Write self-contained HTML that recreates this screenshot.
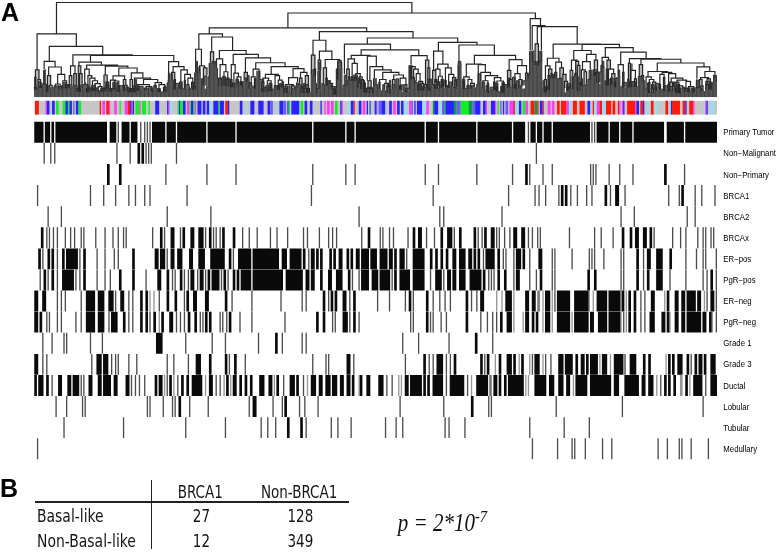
<!DOCTYPE html>
<html><head><meta charset="utf-8"><title>Figure</title>
<style>
html,body{margin:0;padding:0;background:#fff;}
body{width:778px;height:552px;position:relative;overflow:hidden;font-family:"Liberation Sans",sans-serif;color:#111;}
svg{position:absolute;left:0;top:0;}
.pl{position:absolute;font-weight:bold;font-size:25px;line-height:25px;color:#000;}
.lab{position:absolute;left:723.3px;font-size:7.8px;line-height:10px;white-space:nowrap;color:#000;transform:scale(1,1.08);transform-origin:0 0;}
.t{position:absolute;font-family:"DejaVu Sans Condensed","DejaVu Sans","Liberation Sans",sans-serif;font-size:13.2px;line-height:16px;white-space:nowrap;color:#1c1c1c;}
.p{position:absolute;font-family:"Liberation Serif",serif;font-style:italic;font-size:21px;line-height:24px;white-space:nowrap;color:#111;}
.p sup{font-size:12px;line-height:0;vertical-align:8px;}
.hl{position:absolute;background:#222;}
</style></head><body>
<svg width="778" height="552" viewBox="0 0 778 552">
<path fill="#b9b9b9" d="M35.41 69.83H39.01V87.46H35.41zM34.5 87.46H36.41V89.8H34.5zM37.98 79.48H40.55V88.06H37.98zM39.89 86.17H41.21V88.08H39.89zM47.37 75.62H50.59V88.49H47.37zM46.71 88.49H48.03V91.96H46.71zM49.31 85.27H52.14V89.36H49.31zM65.36 84.63H68V88.21H65.36zM59.24 86.56H61.24V89.76H59.24zM69.25 75.62H71.83V87.87H69.25zM73.76 73.69H76.33V84.89H73.76zM78.26 65.97H80.84V88.49H78.26zM76.94 88.49H79.58V91.65H76.94zM79.55 73.69H82.12V88.49H79.55zM78.89 88.49H80.21V91.7H78.89zM86.6 88.49H89.24V92.34H86.6zM91.76 85.27H93.08V91.05H91.76zM93.99 88.49H95.99V91.05H93.99zM101.07 88.75H103.07V91.65H101.07zM104 74.98H107.22V88.49H104zM103 88.49H105V91.65H103zM105.93 82.05H108.76V89.78H105.93zM109.44 88.49H111.44V91.52H109.44zM112.98 88.49H115.62V90.55H112.98zM118.14 85.92H119.46V91.65H118.14zM123.31 79.48H125.88V89.78H123.31zM124.56 85.27H127.2V91.3H124.56zM130 79.48H132.57V88.49H130zM129.34 88.49H130.66V92.21H129.34zM131.57 88.49H133.57V91.95H131.57zM133.84 88.49H135.16V92.24H133.84zM137.06 88.49H138.38V90.75H137.06zM150.88 89.78H152.88V91.72H150.88zM158.3 90.03H159.62V91.95H158.3zM163.43 87.46H166.07V91.95H163.43zM171.44 72.4H174.79V79.48H171.44zM174.13 79.48H175.45V89.27H174.13zM179.55 82.05H182.12V88.76H179.55zM186.92 84.63H188.92V89.46H186.92zM191.52 82.31H194.09V88.49H191.52zM192.77 86.56H195.41V89.46H192.77zM203.36 67.9H206.96V84.63H203.36zM210.44 51.81H213.66V62.75H210.44zM218.77 78.19H221.41V86.18H218.77zM226.81 79.48H228.81V86.3H226.81zM230.63 79.48H231.95V87.33H230.63zM232.86 83.34H234.86V86.63H232.86zM240.28 82.05H241.6V85.53H240.28zM244.16 72.4H247.37V80.77H244.16zM254.44 78.84H255.76V88.43H254.44zM261.82 82.05H263.82V91.7H261.82zM266 85.92H268.64V91.41H266zM270.52 83.98H271.84V90.69H270.52zM277.6 85.92H278.92V89.85H277.6zM281.46 84.63H282.78V87.15H281.46zM284.34 88.49H286.34V92.72H284.34zM291.52 85.92H294.99V92.35H291.52zM299.5 78.19H302.07V87.2H299.5zM301.07 87.2H303.07V92.73H301.07zM305.29 75.62H308.51V88.49H305.29zM303.97 88.49H306.61V92.73H303.97zM307.51 88.49H309.51V92.8H307.51zM311.34 55.03H314.94V74.33H311.34zM314.28 69.18H315.6V75.34H314.28zM318.16 60.18H320.73V70.47H318.16zM323.31 67.9H326.53V84.25H323.31zM325.87 78.19H327.19V85.85H325.87zM337.72 60.82H341.33V79.48H337.72zM330 83.34H332.57V84.49H330zM331.54 86.56H335.15V89.78H331.54zM334.49 89.78H335.81V94.39H334.49zM346.73 69.18H349.31V79.48H346.73zM351.14 76.91H353.14V81.09H351.14zM354.74 77.55H356.74V81.09H354.74zM359.34 76.91H362.18V82.05H359.34zM358.02 82.05H360.66V88.58H358.02zM360.86 79.48H363.5V88.74H360.86zM361.53 80.77H364.49V88.49H361.53zM363.83 83.34H365.15V92.29H363.83zM367.97 80.77H371.18V88.49H367.97zM366.65 88.49H369.29V92.99H366.65zM369.86 88.49H372.5V92.99H369.86zM387.24 86.56H389.88V93.11H387.24zM392.42 79.48H394.99V88.49H392.42zM399.48 85.92H400.8V89.19H399.48zM404.93 84.63H406.93V91.95H404.93zM417.8 84.63H419.8V90.6H417.8zM421.66 83.34H423.66V90.57H421.66zM425.5 60.18H428.84V84.63H425.5zM424.18 84.63H426.82V88.12H424.18zM427.84 67.9H429.84V90.42H427.84zM432.57 70.47H435.79V85.23H432.57zM434.79 79.48H436.79V88.46H434.79zM434.79 82.05H436.79V88.46H434.79zM437.05 84.63H439.69V89.01H437.05zM441.23 79.48H443.23V87.83H441.23zM448 85.92H449.32V87.83H448zM452.52 77.55H455.74V86.83H452.52zM454.74 80.77H456.74V88.43H454.74zM487.26 83.34H488.58V92.73H487.26zM493.69 82.05H495.01V89.73H493.69zM496.26 87.2H497.58V91.43H496.26zM502.7 84.63H504.02V92.88H502.7zM463.06 82.05H464.38V88.9H463.06zM466.97 85.92H468.97V88.89H466.97zM507.48 70.47H510.82V87.88H507.48zM509.5 79.48H512.14V87.6H509.5zM514.28 84.63H515.6V88.46H514.28zM518.8 79.48H522.02V88.19H518.8zM525.5 73.05H528.07V80.49H525.5zM535.1 43.8H538.4V65H535.1zM544.44 79.48H546.44V92.08H544.44zM548.66 69.18H551.88V75.62H548.66zM548 75.62H549.32V89.51H548zM550.88 75.62H552.88V78.45H550.88zM554.74 72.4H556.74V78.27H554.74zM559.86 67.9H563.46V79.48H559.86zM562.82 74.33H566.04V88.09H562.82zM564.49 81.41H567.58V87.96H564.49zM566.92 86.56H568.24V90.79H566.92zM570.12 70.47H572.76V88.99H570.12zM575.69 61.46H578.65V76.26H575.69zM577.33 65.32H579.97V90.72H577.33zM580.82 82.05H582.14V86.09H580.82zM584.02 71.76H586.66V85.85H584.02zM594.35 60.18H597.57V73.05H594.35zM593.69 73.05H595.01V75.47H593.69zM596.25 72.4H598.89V82.45H596.25zM601.07 65.32H603.07V67.59H601.07zM606.96 60.18H610.44V69.18H606.96zM606.3 69.18H607.62V85.33H606.3zM611.72 73.69H614.94V84.23H611.72zM614.28 82.05H615.6V86.93H614.28zM622.65 72.4H623.97V87.84H622.65zM628.4 63.4H630.4V87.21H628.4zM630.37 82.05H631.69V86.93H630.37zM634.41 78.84H636.41V86.93H634.41zM639.27 64.68H642.61V76.91H639.27zM641.61 75.62H643.61V77.24H641.61zM648.65 82.7H649.97V92.99H648.65zM652.52 82.05H655.74V88.49H652.52zM651.52 88.49H653.52V92.82H651.52zM655.08 87.2H656.4V90.49H655.08zM659.2 84.63H660.52V89.19H659.2zM663.45 77.55H664.77V90.72H663.45zM667.95 84.63H669.27V91.69H667.95zM669.86 82.05H672.5V90.49H669.86zM672.44 85.92H675.08V91.19H672.44zM678.25 84.63H679.57V93.07H678.25zM676.32 88.49H677.64V92.99H676.32zM677.91 91.06H679.91V93.07H677.91zM684.66 88.49H687.3V91.69H684.66zM687.9 89.78H689.22V91.96H687.9zM692.71 89.78H694.71V92.8H692.71zM699.5 79.48H702.07V87.2H699.5zM698.18 87.2H700.82V88.7H698.18zM701.07 85.92H703.07V91H701.07zM707.22 78.84H710.44V84.63H707.22zM705.9 84.63H708.54V89.24H705.9zM709.78 83.34H711.1V89.5H709.78zM713.66 75.62H716.23V82.05H713.66z"/>
<path fill="#686868" d="M34.66 76.9H35.99V89.9H34.66zM38.63 81.76H41.28V88.26H38.63zM42.6 83.56H43.93V89.56H42.6zM43.93 84.06H46.57V89.56H43.93zM46.57 86.57H49.22V89.56H46.57zM54.52 85.28H55.84V87.31H54.52zM57.16 85.28H58.49V87.29H57.16zM61.13 85.81H62.46V89.81H61.13zM63.78 82.07H66.43V88.3H63.78zM67.75 84.81H71.72V88.31H67.75zM73.05 85.25H77.02V91.75H73.05zM78.34 85.3H80.99V91.8H78.34zM82.31 84.45H84.96V89.95H82.31zM84.96 84.25H87.61V91.75H84.96zM87.61 85.25H88.93V91.75H87.61zM90.25 87.65H91.58V91.15H90.25zM94.23 84.9H95.55V91.15H94.23zM95.55 87.86H98.2V92.45H95.55zM100.84 87.86H102.17V90.56H100.84zM103.49 87.75H106.14V91.75H103.49zM106.14 84.75H108.79V90.25H106.14zM110.11 88.25H111.43V91.75H110.11zM112.76 82.32H115.4V90.65H112.76zM116.73 82.32H118.05V91.75H116.73zM119.38 85.65H123.35V91.15H119.38zM125.99 86.95H128.64V92.45H125.99zM129.96 88.81H131.29V92.31H129.96zM132.61 85.84H135.26V92.34H132.61zM135.26 79.49H136.58V92.34H135.26zM137.91 85.93H139.23V90.64H137.91zM139.23 86.35H143.2V90.35H139.23zM144.52 87.86H147.17V90.35H144.52zM148.5 87.86H152.47V93.35H148.5zM153.79 85.16H156.44V91.66H153.79zM157.76 88.49H160.41V91.99H157.76zM164.38 85.93H165.7V91.78H164.38zM167.03 82.85H168.35V90.35H167.03zM168.35 73.28H169.67V80.78H168.35zM171 73.7H172.32V80.23H171zM174.97 83.35H178.94V89.37H174.97zM180.26 83.35H181.59V88.81H180.26zM184.23 80.06H185.56V89.56H184.23zM192.18 83.61H193.5V89.75H192.18zM193.5 83.61H194.82V89.75H193.5zM196.15 61.3H197.47V73.34H196.15zM198.79 67.27H200.12V73.23H198.79zM201.44 78.73H202.76V89.23H201.44zM204.09 76.05H206.74V85.55H204.09zM208.06 76.93H209.38V87.43H208.06zM212.03 61.3H213.35V63.96H212.03zM214.68 61.3H216V68.58H214.68zM217.32 78.78H221.3V86.28H217.32zM222.62 76.24H225.27V85.74H222.62zM225.27 77.9H229.24V86.4H225.27zM231.88 83.18H234.53V87.18H231.88zM235.86 79.13H238.5V86.63H235.86zM239.83 81.43H242.47V87.93H239.83zM245.12 77.82H246.44V81.82H245.12zM247.77 75.53H249.09V88.53H247.77zM249.09 82.53H251.74V88.53H249.09zM259.68 79.49H263.65V91.8H259.68zM263.65 87.3H267.62V91.8H263.65zM268.95 83H271.59V90.5H268.95zM274.24 85.5H276.89V90H274.24zM278.21 86.45H279.54V89.95H278.21zM279.54 83.45H280.86V89.95H279.54zM282.18 81.6H283.51V91.1H282.18zM284.83 85.93H287.48V93.01H284.83zM288.8 85.93H290.12V94.12H288.8zM291.45 88.41H292.77V93.91H291.45zM294.1 87.22H296.74V89.54H294.1zM298.07 84.7H302.04V92.2H298.07zM303.36 83.33H304.69V92.83H303.36zM306.01 84.5H308.66V93H306.01zM311.3 69.94H313.95V75.44H311.3zM315.27 83.4H316.6V92.9H315.27zM316.6 88.4H319.25V92.9H316.6zM319.25 62.18H320.57V71.68H319.25zM321.89 83.46H323.22V92.96H321.89zM331.16 88.71H333.81V94.71H331.16zM333.81 87.86H336.45V94.71H333.81zM337.78 62.12H341.75V68.87H337.78zM343.07 85.1H347.04V89.1H343.07zM348.37 76.46H349.69V80.46H348.37zM351.01 77.19H352.34V81.19H351.01zM353.66 74.99H357.63V80.98H353.66zM357.63 78.21H360.28V88.68H357.63zM361.6 82.89H365.57V92.39H361.6zM366.9 87.59H369.54V93.09H366.9zM369.54 87.09H372.19V93.09H369.54zM373.51 84.35H377.49V88.85H373.51zM378.81 82.03H380.13V88.53H378.81zM382.78 84.64H384.1V91.04H382.78zM386.75 84.64H389.4V93.21H386.75zM389.4 80.21H390.72V93.21H389.4zM392.05 84.59H394.69V90.09H392.05zM396.02 78.85H398.66V89.35H396.02zM399.99 85.29H401.31V89.29H399.99zM401.31 84.79H403.96V91.29H401.31zM405.28 88.29H409.25V91.79H405.28zM410.58 77.06H414.55V80.56H410.58zM414.55 82.71H418.52V90.72H414.55zM419.84 82.71H421.17V90.7H419.84zM421.17 86.67H425.14V90.67H421.17zM426.46 87.02H427.78V90.52H426.46zM427.78 79.02H431.75V90.52H427.78zM433.08 84.53H435.73V88.53H433.08zM437.05 81.61H439.7V89.11H437.05zM441.02 80.73H442.34V86.73H441.02zM442.34 80.13H446.31V86.63H442.34zM448.96 81.93H451.61V87.93H448.96zM454.26 79.59H458.23V87.09H454.26zM458.23 61.32H460.87V65.32H458.23zM462.2 79.22H464.85V88.72H462.2zM467.49 84.99H468.82V88.99H467.49zM471.46 85.22H474.11V88.72H471.46zM476.76 84.36H478.08V87.86H476.76zM478.08 73.7H480.73V81.6H478.08zM482.05 82.07H484.7V90.63H482.05zM486.02 85.53H488.67V91.53H486.02zM490 87.19H493.97V91.69H490zM493.97 83.03H497.94V91.53H493.97zM500.58 86.33H501.91V92.83H500.58zM501.91 82.32H504.56V92.83H501.91zM504.56 84.58H507.2V88.08H504.56zM508.53 77.93H509.85V85.43H508.53zM512.5 77.06H515.14V88.56H512.5zM516.47 80.78H519.12V89.23H516.47zM521.76 80.78H525.73V85.58H521.76zM527.06 74.35H529.7V80.43H527.06zM532.35 61.3H536.32V65.76H532.35zM537.65 61.3H541.62V66.09H537.65zM542.94 80.68H544.26V92.18H542.94zM545.59 86.27H548.24V92.27H545.59zM550.88 73.05H552.21V78.55H550.88zM553.53 74.05H556.18V78.55H553.53zM566.77 83.39H570.74V90.89H566.77zM572.06 76.23H573.38V89.23H572.06zM574.71 73.05H577.36V77.05H574.71zM577.36 83.32H580V90.82H577.36zM581.33 78.69H582.65V86.19H581.33zM587.94 79.35H590.59V85.35H587.94zM593.24 69.78H597.21V82.78H593.24zM598.53 72.05H601.18V82.55H598.53zM602.5 61.3H603.83V67.69H602.5zM606.48 73.93H607.8V85.43H606.48zM607.8 79.43H610.45V85.43H607.8zM610.45 77.88H613.09V85.38H610.45zM614.42 78.53H617.06V87.03H614.42zM618.39 70.02H619.71V77.52H618.39zM622.36 82.37H626.33V86.87H622.36zM627.65 78.81H628.98V87.31H627.65zM628.98 81.81H630.3V87.31H628.98zM631.62 81.52H635.6V87.02H631.62zM638.24 76.38H640.89V86.88H638.24zM642.21 80.79H644.86V89.29H642.21zM647.51 82.79H648.83V89.29H647.51zM651.48 84.42H654.13V92.92H651.48zM655.45 83.35H659.42V90.59H655.45zM664.72 85.74H668.69V91.74H664.72zM670.01 86.59H672.66V90.59H670.01zM673.98 83.35H676.63V92.39H673.98zM677.95 87.81H680.6V93.31H677.95zM681.92 87.22H685.89V91.73H681.92zM687.22 87.86H689.87V91.79H687.22zM691.19 87.86H692.51V92.39H691.19zM693.84 87.86H696.48V92.09H693.84zM697.81 80.78H699.13V90.57H697.81zM705.75 81.1H709.72V89.6H705.75zM711.04 82.12H712.37V89.62H711.04zM713.69 76.92H716.34V83.28H713.69z"/>
<path fill="#727272" d="M34 97.1L34 89.4L35.32 89.4L35.32 89.34L36.65 89.34L36.65 87.76L37.97 87.76L37.97 87.76L39.29 87.76L39.29 87.68L40.62 87.68L40.62 87.49L41.94 87.49L41.94 89.06L43.27 89.06L43.27 69.94L44.59 69.94L44.59 69.34L45.91 69.34L45.91 89.06L47.24 89.06L47.24 91.56L48.56 91.56L48.56 86.76L49.88 86.76L49.88 86.96L51.21 86.96L51.21 89.06L52.53 89.06L52.53 86.76L53.85 86.76L53.85 86.81L55.18 86.81L55.18 86.7L56.5 86.7L56.5 86.76L57.83 86.76L57.83 86.79L59.15 86.79L59.15 89.36L60.47 89.36L60.47 89.31L61.8 89.31L61.8 87.76L63.12 87.76L63.12 87.8L64.44 87.8L64.44 87.8L65.77 87.8L65.77 87.76L67.09 87.76L67.09 87.81L68.41 87.81L68.41 87.57L69.74 87.57L69.74 87.33L71.06 87.33L71.06 84.57L72.39 84.57L72.39 86.87L73.71 86.87L73.71 85.09L75.03 85.09L75.03 85.52L76.36 85.52L76.36 91.25L77.68 91.25L77.68 91.3L79 91.3L79 90.15L80.33 90.15L80.33 90.03L81.65 90.03L81.65 89.45L82.97 89.45L82.97 89.19L84.3 89.19L84.3 82.05L85.62 82.05L85.62 91.94L86.95 91.94L86.95 91.25L88.27 91.25L88.27 91.12L89.59 91.12L89.59 88.15L90.92 88.15L90.92 90.65L92.24 90.65L92.24 90.44L93.56 90.44L93.56 90.55L94.89 90.55L94.89 90.65L96.21 90.65L96.21 90.37L97.53 90.37L97.53 91.95L98.86 91.95L98.86 90.15L100.18 90.15L100.18 90.05L101.51 90.05L101.51 90.06L102.83 90.06L102.83 91.25L104.15 91.25L104.15 90.99L105.48 90.99L105.48 89.75L106.8 89.75L106.8 88.15L108.12 88.15L108.12 87.88L109.45 87.88L109.45 91.25L110.77 91.25L110.77 91.12L112.09 91.12L112.09 90.15L113.42 90.15L113.42 89.86L114.74 89.86L114.74 90.15L116.07 90.15L116.07 89.95L117.39 89.95L117.39 91.25L118.71 91.25L118.71 89.45L120.04 89.45L120.04 88.95L121.36 88.95L121.36 89.09L122.68 89.09L122.68 90.65L124.01 90.65L124.01 90.9L125.33 90.9L125.33 88.15L126.66 88.15L126.66 87.95L127.98 87.95L127.98 91.95L129.3 91.95L129.3 91.81L130.63 91.81L130.63 91.55L131.95 91.55L131.95 91.76L133.27 91.76L133.27 91.55L134.6 91.55L134.6 91.84L135.92 91.84L135.92 90.35L137.24 90.35L137.24 90.14L138.57 90.14L138.57 89.85L139.89 89.85L139.89 89.69L141.22 89.69L141.22 88.05L142.54 88.05L142.54 88.04L143.86 88.04L143.86 89.85L145.19 89.85L145.19 89.7L146.51 89.7L146.51 89.55L147.83 89.55L147.83 92.85L149.16 92.85L149.16 92.77L150.48 92.77L150.48 91.05L151.8 91.05L151.8 91.32L153.13 91.32L153.13 91.16L154.45 91.16L154.45 88.05L155.78 88.05L155.78 88.02L157.1 88.02L157.1 88.27L158.42 88.27L158.42 91.55L159.75 91.55L159.75 91.49L161.07 91.49L161.07 91.48L162.39 91.48L162.39 91.55L163.72 91.55L163.72 91.28L165.04 91.28L165.04 90.35L166.36 90.35L166.36 89.85L167.69 89.85L167.69 79.91L169.01 79.91L169.01 80.28L170.34 80.28L170.34 79.7L171.66 79.7L171.66 79.73L172.98 79.73L172.98 80.15L174.31 80.15L174.31 88.87L175.63 88.87L175.63 88.67L176.95 88.67L176.95 87.26L178.28 87.26L178.28 88.46L179.6 88.46L179.6 88.25L180.92 88.25L180.92 88.31L182.25 88.31L182.25 87.96L183.57 87.96L183.57 87.94L184.9 87.94L184.9 89.06L186.22 89.06L186.22 89.06L187.54 89.06L187.54 89.05L188.87 89.05L188.87 86.76L190.19 86.76L190.19 87.96L191.51 87.96L191.51 89.06L192.84 89.06L192.84 89.25L194.16 89.25L194.16 72.6L195.48 72.6L195.48 72.82L196.81 72.82L196.81 72.84L198.13 72.84L198.13 72.42L199.46 72.42L199.46 72.73L200.78 72.73L200.78 88.73L202.1 88.73L202.1 84.93L203.43 84.93L203.43 85.05L204.75 85.05L204.75 88.73L206.07 88.73L206.07 75.5L207.4 75.5L207.4 86.93L208.72 86.93L208.72 62.79L210.04 62.79L210.04 62.9L211.37 62.9L211.37 63.46L212.69 63.46L212.69 63.27L214.02 63.27L214.02 62.81L215.34 62.81L215.34 68.08L216.66 68.08L216.66 68.24L217.99 68.24L217.99 84.76L219.31 84.76L219.31 85.64L220.63 85.64L220.63 85.78L221.96 85.78L221.96 85.24L223.28 85.24L223.28 85.24L224.6 85.24L224.6 85.06L225.93 85.06L225.93 85.64L227.25 85.64L227.25 85.61L228.58 85.61L228.58 85.9L229.9 85.9L229.9 86.93L231.22 86.93L231.22 86.68L232.55 86.68L232.55 86.23L233.87 86.23L233.87 86.23L235.19 86.23L235.19 86.13L236.52 86.13L236.52 83.93L237.84 83.93L237.84 83.92L239.16 83.92L239.16 84.93L240.49 84.93L240.49 85.13L241.81 85.13L241.81 87.43L243.14 87.43L243.14 81.06L244.46 81.06L244.46 81.16L245.78 81.16L245.78 81.32L247.11 81.32L247.11 81.34L248.43 81.34L248.43 88.03L249.75 88.03L249.75 87.97L251.08 87.97L251.08 85.73L252.4 85.73L252.4 85.73L253.72 85.73L253.72 85.44L255.05 85.44L255.05 88.03L256.37 88.03L256.37 70.76L257.7 70.76L257.7 70.79L259.02 70.79L259.02 70.48L260.34 70.48L260.34 88.12L261.67 88.12L261.67 87.94L262.99 87.94L262.99 91.3L264.31 91.3L264.31 91.08L265.64 91.08L265.64 91.01L266.96 91.01L266.96 91.3L268.28 91.3L268.28 90L269.61 90L269.61 90.29L270.93 90.29L270.93 88.8L272.26 88.8L272.26 88.52L273.58 88.52L273.58 89.1L274.9 89.1L274.9 89.1L276.23 89.1L276.23 89.5L277.55 89.5L277.55 89.36L278.87 89.36L278.87 89.45L280.2 89.45L280.2 86.5L281.52 86.5L281.52 86.75L282.84 86.75L282.84 90.6L284.17 90.6L284.17 90.7L285.49 90.7L285.49 92.32L286.82 92.32L286.82 92.51L288.14 92.51L288.14 92.55L289.46 92.55L289.46 93.62L290.79 93.62L290.79 93.41L292.11 93.41L292.11 88.82L293.43 88.82L293.43 89.04L294.76 89.04L294.76 88.98L296.08 88.98L296.08 82.29L297.41 82.29L297.41 82.73L298.73 82.73L298.73 82.11L300.05 82.11L300.05 91.63L301.38 91.63L301.38 91.7L302.7 91.7L302.7 92.33L304.02 92.33L304.02 90.53L305.35 90.53L305.35 92.33L306.67 92.33L306.67 92.36L307.99 92.36L307.99 92.5L309.32 92.5L309.32 92.4L310.64 92.4L310.64 74.73L311.97 74.73L311.97 74.49L313.29 74.49L313.29 74.94L314.61 74.94L314.61 74.49L315.94 74.49L315.94 92.4L317.26 92.4L317.26 70.84L318.58 70.84L318.58 70.68L319.91 70.68L319.91 71.18L321.23 71.18L321.23 92.46L322.55 92.46L322.55 83.95L323.88 83.95L323.88 83.93L325.2 83.93L325.2 85.45L326.53 85.45L326.53 79.57L327.85 79.57L327.85 79.98L329.17 79.98L329.17 79.97L330.5 79.97L330.5 84.21L331.82 84.21L331.82 84.19L333.14 84.19L333.14 94.21L334.47 94.21L334.47 93.99L335.79 93.99L335.79 68.61L337.11 68.61L337.11 68.29L338.44 68.29L338.44 68.63L339.76 68.63L339.76 67.94L341.09 67.94L341.09 68.37L342.41 68.37L342.41 88.6L343.73 88.6L343.73 75.07L345.06 75.07L345.06 74.38L346.38 74.38L346.38 79.5L347.7 79.5L347.7 79.96L349.03 79.96L349.03 79.81L350.35 79.81L350.35 80.69L351.67 80.69L351.67 80.27L353 80.27L353 80.48L354.32 80.48L354.32 80.69L355.65 80.69L355.65 80.37L356.97 80.37L356.97 80.21L358.29 80.21L358.29 88.26L359.62 88.26L359.62 88.18L360.94 88.18L360.94 88.21L362.26 88.21L362.26 88.34L363.59 88.34L363.59 91.78L364.91 91.78L364.91 91.89L366.23 91.89L366.23 91.85L367.56 91.85L367.56 91.6L368.88 91.6L368.88 92.59L370.21 92.59L370.21 92.66L371.53 92.66L371.53 88.79L372.85 88.79L372.85 78.26L374.18 78.26L374.18 78.33L375.5 78.33L375.5 78.35L376.82 78.35L376.82 88.35L378.15 88.35L378.15 87.79L379.47 87.79L379.47 88.03L380.79 88.03L380.79 90.39L382.12 90.39L382.12 90.54L383.44 90.54L383.44 90.39L384.77 90.39L384.77 90.33L386.09 90.33L386.09 92.59L387.41 92.59L387.41 92.63L388.74 92.63L388.74 92.71L390.06 92.71L390.06 90.39L391.38 90.39L391.38 89.59L392.71 89.59L392.71 88.79L394.03 88.79L394.03 88.65L395.35 88.65L395.35 88.79L396.68 88.79L396.68 88.79L398 88.79L398 88.85L399.33 88.85L399.33 88.79L400.65 88.79L400.65 88.65L401.97 88.65L401.97 91.89L403.3 91.89L403.3 90.79L404.62 90.79L404.62 91.29L405.94 91.29L405.94 91.55L407.27 91.55L407.27 91.15L408.59 91.15L408.59 65.2L409.91 65.2L409.91 65.1L411.24 65.1L411.24 65.05L412.56 65.05L412.56 79.73L413.89 79.73L413.89 80.06L415.21 80.06L415.21 80.15L416.53 80.15L416.53 90.2L417.86 90.2L417.86 90.22L419.18 90.22L419.18 90.2L420.5 90.2L420.5 90.17L421.83 90.17L421.83 87.82L423.15 87.82L423.15 87.72L424.47 87.72L424.47 87.82L425.8 87.82L425.8 85.22L427.12 85.22L427.12 90.02L428.45 90.02L428.45 87.52L429.77 87.52L429.77 87.52L431.09 87.52L431.09 87.36L432.42 87.36L432.42 84.93L433.74 84.93L433.74 85.02L435.06 85.02L435.06 88.03L436.39 88.03L436.39 88.06L437.71 88.06L437.71 88.73L439.03 88.73L439.03 88.61L440.36 88.61L440.36 86.23L441.68 86.23L441.68 86.13L443.01 86.13L443.01 87.43L444.33 87.43L444.33 87.72L445.65 87.72L445.65 85.73L446.98 85.73L446.98 84.93L448.3 84.93L448.3 87.43L449.62 87.43L449.62 87.23L450.95 87.23L450.95 87.43L452.27 87.43L452.27 86.53L453.59 86.53L453.59 86.59L454.92 86.59L454.92 86.64L456.24 86.64L456.24 88.03L457.57 88.03L457.57 64.82L458.89 64.82L458.89 64.39L460.21 64.39L460.21 64.12L461.54 64.12L461.54 88.22L462.86 88.22L462.86 88.5L464.18 88.5L464.18 88.22L465.51 88.22L465.51 88.06L466.83 88.06L466.83 88.49L468.16 88.49L468.16 87.52L469.48 87.52L469.48 87.43L470.8 87.43L470.8 88.22L472.13 88.22L472.13 86.22L473.45 86.22L473.45 86.2L474.77 86.2L474.77 87.52L476.1 87.52L476.1 87.36L477.42 87.36L477.42 80.83L478.74 80.83L478.74 80.83L480.07 80.83L480.07 81.1L481.39 81.1L481.39 87.53L482.72 87.53L482.72 87.47L484.04 87.47L484.04 90.13L485.36 90.13L485.36 90.21L486.69 90.21L486.69 92.33L488.01 92.33L488.01 91.03L489.33 91.03L489.33 91.19L490.66 91.19L490.66 89.33L491.98 89.33L491.98 89.2L493.3 89.2L493.3 89.33L494.63 89.33L494.63 89.06L495.95 89.06L495.95 89.53L497.28 89.53L497.28 91.03L498.6 91.03L498.6 91.17L499.92 91.17L499.92 91.22L501.25 91.22L501.25 92.33L502.57 92.33L502.57 92.48L503.89 92.48L503.89 87.53L505.22 87.53L505.22 87.73L506.54 87.73L506.54 87.58L507.86 87.58L507.86 84.93L509.19 84.93L509.19 84.65L510.51 84.65L510.51 86.93L511.84 86.93L511.84 87.2L513.16 87.2L513.16 88.03L514.48 88.03L514.48 88.06L515.81 88.06L515.81 88.73L517.13 88.73L517.13 88.03L518.45 88.03L518.45 87.89L519.78 87.89L519.78 84.93L521.1 84.93L521.1 85.08L522.42 85.08L522.42 88.73L523.75 88.73L523.75 88.48L525.07 88.48L525.07 80.19L526.4 80.19L526.4 79.93L527.72 79.93L527.72 80.09L529.04 80.09L529.04 50.91L530.37 50.91L530.37 50.55L531.69 50.55L531.69 50.94L533.01 50.94L533.01 50.37L534.34 50.37L534.34 65.36L535.66 65.36L535.66 65.26L536.98 65.26L536.98 65.59L538.31 65.59L538.31 51.06L539.63 51.06L539.63 50.66L540.96 50.66L540.96 50.93L542.28 50.93L542.28 88.66L543.6 88.66L543.6 91.68L544.93 91.68L544.93 91.77L546.25 91.77L546.25 89.4L547.57 89.4L547.57 89.11L548.9 89.11L548.9 77.93L550.22 77.93L550.22 78.05L551.54 78.05L551.54 77.75L552.87 77.75L552.87 78.05L554.19 78.05L554.19 77.87L555.52 77.87L555.52 77.85L556.84 77.85L556.84 77.92L558.16 77.92L558.16 78.19L559.49 78.19L559.49 77.6L560.81 77.6L560.81 77.71L562.13 77.71L562.13 87.79L563.46 87.79L563.46 87.66L564.78 87.66L564.78 92.59L566.1 92.59L566.1 90.39L567.43 90.39L567.43 90.32L568.75 90.32L568.75 84.93L570.08 84.93L570.08 84.98L571.4 84.98L571.4 88.73L572.72 88.73L572.72 88.59L574.05 88.59L574.05 76.31L575.37 76.31L575.37 76.75L576.69 76.75L576.69 76.55L578.02 76.55L578.02 76.53L579.34 76.53L579.34 90.32L580.66 90.32L580.66 85.45L581.99 85.45L581.99 85.69L583.31 85.69L583.31 84.85L584.64 84.85L584.64 84.57L585.96 84.57L585.96 85.45L587.28 85.45L587.28 84.85L588.61 84.85L588.61 69.95L589.93 69.95L589.93 69.22L591.25 69.22L591.25 69.78L592.58 69.78L592.58 74.88L593.9 74.88L593.9 75.07L595.22 75.07L595.22 81.78L596.55 81.78L596.55 82.28L597.87 82.28L597.87 82.05L599.2 82.05L599.2 83.93L600.52 83.93L600.52 66.85L601.84 66.85L601.84 67.19L603.17 67.19L603.17 67.09L604.49 67.09L604.49 80.35L605.81 80.35L605.81 80.65L607.14 80.65L607.14 84.93L608.46 84.93L608.46 84.84L609.78 84.84L609.78 84.88L611.11 84.88L611.11 83.93L612.43 83.93L612.43 83.8L613.76 83.8L613.76 86.53L615.08 86.53L615.08 84.94L616.4 84.94L616.4 76.91L617.73 76.91L617.73 77.02L619.05 77.02L619.05 76.31L620.37 76.31L620.37 86.14L621.7 86.14L621.7 86.37L623.02 86.37L623.02 87.44L624.34 87.44L624.34 87.47L625.67 87.47L625.67 82.64L626.99 82.64L626.99 86.74L628.32 86.74L628.32 86.81L629.64 86.81L629.64 86.53L630.96 86.53L630.96 86.52L632.29 86.52L632.29 85.73L633.61 85.73L633.61 85.53L634.93 85.53L634.93 85.68L636.26 85.68L636.26 86.53L637.58 86.53L637.58 86.38L638.91 86.38L638.91 76.92L640.23 76.92L640.23 76.35L641.55 76.35L641.55 76.84L642.88 76.84L642.88 76.64L644.2 76.64L644.2 88.79L645.52 88.79L645.52 88.59L646.85 88.59L646.85 88.79L648.17 88.79L648.17 88.61L649.49 88.61L649.49 92.59L650.82 92.59L650.82 92.42L652.14 92.42L652.14 91.89L653.47 91.89L653.47 91.85L654.79 91.85L654.79 90.09L656.11 90.09L656.11 89.94L657.44 89.94L657.44 89.89L658.76 89.89L658.76 88.79L660.08 88.79L660.08 88.68L661.41 88.68L661.41 88.71L662.73 88.71L662.73 90.09L664.05 90.09L664.05 90.32L665.38 90.32L665.38 90.24L666.7 90.24L666.7 91.29L668.03 91.29L668.03 91.24L669.35 91.24L669.35 90.09L670.67 90.09L670.67 90.02L672 90.02L672 89.99L673.32 89.99L673.32 91.89L674.64 91.89L674.64 90.79L675.97 90.79L675.97 90.56L677.29 90.56L677.29 92.59L678.61 92.59L678.61 92.67L679.94 92.67L679.94 92.81L681.26 92.81L681.26 88.79L682.59 88.79L682.59 88.65L683.91 88.65L683.91 91.29L685.23 91.29L685.23 91.23L686.56 91.23L686.56 91.29L687.88 91.29L687.88 91.56L689.2 91.56L689.2 89.59L690.53 89.59L690.53 91.29L691.85 91.29L691.85 91.89L693.17 91.89L693.17 91.59L694.5 91.59L694.5 92.4L695.82 92.4L695.82 79.46L697.15 79.46L697.15 79.47L698.47 79.47L698.47 90.07L699.79 90.07L699.79 88.3L701.12 88.3L701.12 88.09L702.44 88.09L702.44 90.6L703.76 90.6L703.76 91.3L705.09 91.3L705.09 86.5L706.41 86.5L706.41 88.8L707.73 88.8L707.73 88.84L709.06 88.84L709.06 89.1L710.38 89.1L710.38 89.1L711.71 89.1L711.71 89.12L713.03 89.12L713.03 82.78L714.35 82.78L714.35 82.71L715.68 82.71L715.68 82.16L717 82.16L717 97.1z"/><path stroke="#3e3e3e" stroke-width="0.92" fill="none" d="M34.66 89.4V97.1M35.99 89.34V97.1M37.31 87.76V97.1M38.63 87.76V97.1M39.96 87.68V97.1M41.28 87.49V97.1M42.6 89.06V97.1M43.93 69.94V97.1M45.25 69.34V97.1M46.57 89.06V97.1M47.9 91.56V97.1M49.22 86.76V97.1M50.55 86.96V97.1M51.87 89.06V97.1M53.19 86.76V97.1M54.52 86.81V97.1M55.84 86.7V97.1M57.16 86.76V97.1M58.49 86.79V97.1M59.81 89.36V97.1M61.13 89.31V97.1M62.46 87.76V97.1M63.78 87.8V97.1M65.11 87.8V97.1M66.43 87.76V97.1M67.75 87.81V97.1M69.08 87.57V97.1M70.4 87.33V97.1M71.72 84.57V97.1M73.05 86.87V97.1M74.37 85.09V97.1M75.69 85.52V97.1M77.02 91.25V97.1M78.34 91.3V97.1M79.67 90.15V97.1M80.99 90.03V97.1M82.31 89.45V97.1M83.64 89.19V97.1M84.96 82.05V97.1M86.28 91.94V97.1M87.61 91.25V97.1M88.93 91.12V97.1M90.25 88.15V97.1M91.58 90.65V97.1M92.9 90.44V97.1M94.23 90.55V97.1M95.55 90.65V97.1M96.87 90.37V97.1M98.2 91.95V97.1M99.52 90.15V97.1M100.84 90.05V97.1M102.17 90.06V97.1M103.49 91.25V97.1M104.81 90.99V97.1M106.14 89.75V97.1M107.46 88.15V97.1M108.79 87.88V97.1M110.11 91.25V97.1M111.43 91.12V97.1M112.76 90.15V97.1M114.08 89.86V97.1M115.4 90.15V97.1M116.73 89.95V97.1M118.05 91.25V97.1M119.38 89.45V97.1M120.7 88.95V97.1M122.02 89.09V97.1M123.35 90.65V97.1M124.67 90.9V97.1M125.99 88.15V97.1M127.32 87.95V97.1M128.64 91.95V97.1M129.96 91.81V97.1M131.29 91.55V97.1M132.61 91.76V97.1M133.94 91.55V97.1M135.26 91.84V97.1M136.58 90.35V97.1M137.91 90.14V97.1M139.23 89.85V97.1M140.55 89.69V97.1M141.88 88.05V97.1M143.2 88.04V97.1M144.52 89.85V97.1M145.85 89.7V97.1M147.17 89.55V97.1M148.5 92.85V97.1M149.82 92.77V97.1M151.14 91.05V97.1M152.47 91.32V97.1M153.79 91.16V97.1M155.11 88.05V97.1M156.44 88.02V97.1M157.76 88.27V97.1M159.08 91.55V97.1M160.41 91.49V97.1M161.73 91.48V97.1M163.06 91.55V97.1M164.38 91.28V97.1M165.7 90.35V97.1M167.03 89.85V97.1M168.35 79.91V97.1M169.67 80.28V97.1M171 79.7V97.1M172.32 79.73V97.1M173.64 80.15V97.1M174.97 88.87V97.1M176.29 88.67V97.1M177.62 87.26V97.1M178.94 88.46V97.1M180.26 88.25V97.1M181.59 88.31V97.1M182.91 87.96V97.1M184.23 87.94V97.1M185.56 89.06V97.1M186.88 89.06V97.1M188.2 89.05V97.1M189.53 86.76V97.1M190.85 87.96V97.1M192.18 89.06V97.1M193.5 89.25V97.1M194.82 72.6V97.1M196.15 72.82V97.1M197.47 72.84V97.1M198.79 72.42V97.1M200.12 72.73V97.1M201.44 88.73V97.1M202.76 84.93V97.1M204.09 85.05V97.1M205.41 88.73V97.1M206.74 75.5V97.1M208.06 86.93V97.1M209.38 62.79V97.1M210.71 62.9V97.1M212.03 63.46V97.1M213.35 63.27V97.1M214.68 62.81V97.1M216 68.08V97.1M217.32 68.24V97.1M218.65 84.76V97.1M219.97 85.64V97.1M221.3 85.78V97.1M222.62 85.24V97.1M223.94 85.24V97.1M225.27 85.06V97.1M226.59 85.64V97.1M227.91 85.61V97.1M229.24 85.9V97.1M230.56 86.93V97.1M231.88 86.68V97.1M233.21 86.23V97.1M234.53 86.23V97.1M235.86 86.13V97.1M237.18 83.93V97.1M238.5 83.92V97.1M239.83 84.93V97.1M241.15 85.13V97.1M242.47 87.43V97.1M243.8 81.06V97.1M245.12 81.16V97.1M246.44 81.32V97.1M247.77 81.34V97.1M249.09 88.03V97.1M250.42 87.97V97.1M251.74 85.73V97.1M253.06 85.73V97.1M254.39 85.44V97.1M255.71 88.03V97.1M257.03 70.76V97.1M258.36 70.79V97.1M259.68 70.48V97.1M261 88.12V97.1M262.33 87.94V97.1M263.65 91.3V97.1M264.98 91.08V97.1M266.3 91.01V97.1M267.62 91.3V97.1M268.95 90V97.1M270.27 90.29V97.1M271.59 88.8V97.1M272.92 88.52V97.1M274.24 89.1V97.1M275.56 89.1V97.1M276.89 89.5V97.1M278.21 89.36V97.1M279.54 89.45V97.1M280.86 86.5V97.1M282.18 86.75V97.1M283.51 90.6V97.1M284.83 90.7V97.1M286.15 92.32V97.1M287.48 92.51V97.1M288.8 92.55V97.1M290.12 93.62V97.1M291.45 93.41V97.1M292.77 88.82V97.1M294.1 89.04V97.1M295.42 88.98V97.1M296.74 82.29V97.1M298.07 82.73V97.1M299.39 82.11V97.1M300.71 91.63V97.1M302.04 91.7V97.1M303.36 92.33V97.1M304.69 90.53V97.1M306.01 92.33V97.1M307.33 92.36V97.1M308.66 92.5V97.1M309.98 92.4V97.1M311.3 74.73V97.1M312.63 74.49V97.1M313.95 74.94V97.1M315.27 74.49V97.1M316.6 92.4V97.1M317.92 70.84V97.1M319.25 70.68V97.1M320.57 71.18V97.1M321.89 92.46V97.1M323.22 83.95V97.1M324.54 83.93V97.1M325.86 85.45V97.1M327.19 79.57V97.1M328.51 79.98V97.1M329.83 79.97V97.1M331.16 84.21V97.1M332.48 84.19V97.1M333.81 94.21V97.1M335.13 93.99V97.1M336.45 68.61V97.1M337.78 68.29V97.1M339.1 68.63V97.1M340.42 67.94V97.1M341.75 68.37V97.1M343.07 88.6V97.1M344.39 75.07V97.1M345.72 74.38V97.1M347.04 79.5V97.1M348.37 79.96V97.1M349.69 79.81V97.1M351.01 80.69V97.1M352.34 80.27V97.1M353.66 80.48V97.1M354.98 80.69V97.1M356.31 80.37V97.1M357.63 80.21V97.1M358.95 88.26V97.1M360.28 88.18V97.1M361.6 88.21V97.1M362.93 88.34V97.1M364.25 91.78V97.1M365.57 91.89V97.1M366.9 91.85V97.1M368.22 91.6V97.1M369.54 92.59V97.1M370.87 92.66V97.1M372.19 88.79V97.1M373.51 78.26V97.1M374.84 78.33V97.1M376.16 78.35V97.1M377.49 88.35V97.1M378.81 87.79V97.1M380.13 88.03V97.1M381.46 90.39V97.1M382.78 90.54V97.1M384.1 90.39V97.1M385.43 90.33V97.1M386.75 92.59V97.1M388.07 92.63V97.1M389.4 92.71V97.1M390.72 90.39V97.1M392.05 89.59V97.1M393.37 88.79V97.1M394.69 88.65V97.1M396.02 88.79V97.1M397.34 88.79V97.1M398.66 88.85V97.1M399.99 88.79V97.1M401.31 88.65V97.1M402.63 91.89V97.1M403.96 90.79V97.1M405.28 91.29V97.1M406.61 91.55V97.1M407.93 91.15V97.1M409.25 65.2V97.1M410.58 65.1V97.1M411.9 65.05V97.1M413.22 79.73V97.1M414.55 80.06V97.1M415.87 80.15V97.1M417.19 90.2V97.1M418.52 90.22V97.1M419.84 90.2V97.1M421.17 90.17V97.1M422.49 87.82V97.1M423.81 87.72V97.1M425.14 87.82V97.1M426.46 85.22V97.1M427.78 90.02V97.1M429.11 87.52V97.1M430.43 87.52V97.1M431.75 87.36V97.1M433.08 84.93V97.1M434.4 85.02V97.1M435.73 88.03V97.1M437.05 88.06V97.1M438.37 88.73V97.1M439.7 88.61V97.1M441.02 86.23V97.1M442.34 86.13V97.1M443.67 87.43V97.1M444.99 87.72V97.1M446.31 85.73V97.1M447.64 84.93V97.1M448.96 87.43V97.1M450.29 87.23V97.1M451.61 87.43V97.1M452.93 86.53V97.1M454.26 86.59V97.1M455.58 86.64V97.1M456.9 88.03V97.1M458.23 64.82V97.1M459.55 64.39V97.1M460.87 64.12V97.1M462.2 88.22V97.1M463.52 88.5V97.1M464.85 88.22V97.1M466.17 88.06V97.1M467.49 88.49V97.1M468.82 87.52V97.1M470.14 87.43V97.1M471.46 88.22V97.1M472.79 86.22V97.1M474.11 86.2V97.1M475.44 87.52V97.1M476.76 87.36V97.1M478.08 80.83V97.1M479.41 80.83V97.1M480.73 81.1V97.1M482.05 87.53V97.1M483.38 87.47V97.1M484.7 90.13V97.1M486.02 90.21V97.1M487.35 92.33V97.1M488.67 91.03V97.1M490 91.19V97.1M491.32 89.33V97.1M492.64 89.2V97.1M493.97 89.33V97.1M495.29 89.06V97.1M496.61 89.53V97.1M497.94 91.03V97.1M499.26 91.17V97.1M500.58 91.22V97.1M501.91 92.33V97.1M503.23 92.48V97.1M504.56 87.53V97.1M505.88 87.73V97.1M507.2 87.58V97.1M508.53 84.93V97.1M509.85 84.65V97.1M511.17 86.93V97.1M512.5 87.2V97.1M513.82 88.03V97.1M515.14 88.06V97.1M516.47 88.73V97.1M517.79 88.03V97.1M519.12 87.89V97.1M520.44 84.93V97.1M521.76 85.08V97.1M523.09 88.73V97.1M524.41 88.48V97.1M525.73 80.19V97.1M527.06 79.93V97.1M528.38 80.09V97.1M529.7 50.91V97.1M531.03 50.55V97.1M532.35 50.94V97.1M533.68 50.37V97.1M535 65.36V97.1M536.32 65.26V97.1M537.65 65.59V97.1M538.97 51.06V97.1M540.29 50.66V97.1M541.62 50.93V97.1M542.94 88.66V97.1M544.26 91.68V97.1M545.59 91.77V97.1M546.91 89.4V97.1M548.24 89.11V97.1M549.56 77.93V97.1M550.88 78.05V97.1M552.21 77.75V97.1M553.53 78.05V97.1M554.85 77.87V97.1M556.18 77.85V97.1M557.5 77.92V97.1M558.82 78.19V97.1M560.15 77.6V97.1M561.47 77.71V97.1M562.8 87.79V97.1M564.12 87.66V97.1M565.44 92.59V97.1M566.77 90.39V97.1M568.09 90.32V97.1M569.41 84.93V97.1M570.74 84.98V97.1M572.06 88.73V97.1M573.38 88.59V97.1M574.71 76.31V97.1M576.03 76.75V97.1M577.36 76.55V97.1M578.68 76.53V97.1M580 90.32V97.1M581.33 85.45V97.1M582.65 85.69V97.1M583.97 84.85V97.1M585.3 84.57V97.1M586.62 85.45V97.1M587.94 84.85V97.1M589.27 69.95V97.1M590.59 69.22V97.1M591.92 69.78V97.1M593.24 74.88V97.1M594.56 75.07V97.1M595.89 81.78V97.1M597.21 82.28V97.1M598.53 82.05V97.1M599.86 83.93V97.1M601.18 66.85V97.1M602.5 67.19V97.1M603.83 67.09V97.1M605.15 80.35V97.1M606.48 80.65V97.1M607.8 84.93V97.1M609.12 84.84V97.1M610.45 84.88V97.1M611.77 83.93V97.1M613.09 83.8V97.1M614.42 86.53V97.1M615.74 84.94V97.1M617.06 76.91V97.1M618.39 77.02V97.1M619.71 76.31V97.1M621.04 86.14V97.1M622.36 86.37V97.1M623.68 87.44V97.1M625.01 87.47V97.1M626.33 82.64V97.1M627.65 86.74V97.1M628.98 86.81V97.1M630.3 86.53V97.1M631.62 86.52V97.1M632.95 85.73V97.1M634.27 85.53V97.1M635.6 85.68V97.1M636.92 86.53V97.1M638.24 86.38V97.1M639.57 76.92V97.1M640.89 76.35V97.1M642.21 76.84V97.1M643.54 76.64V97.1M644.86 88.79V97.1M646.19 88.59V97.1M647.51 88.79V97.1M648.83 88.61V97.1M650.16 92.59V97.1M651.48 92.42V97.1M652.8 91.89V97.1M654.13 91.85V97.1M655.45 90.09V97.1M656.77 89.94V97.1M658.1 89.89V97.1M659.42 88.79V97.1M660.75 88.68V97.1M662.07 88.71V97.1M663.39 90.09V97.1M664.72 90.32V97.1M666.04 90.24V97.1M667.36 91.29V97.1M668.69 91.24V97.1M670.01 90.09V97.1M671.33 90.02V97.1M672.66 89.99V97.1M673.98 91.89V97.1M675.31 90.79V97.1M676.63 90.56V97.1M677.95 92.59V97.1M679.28 92.67V97.1M680.6 92.81V97.1M681.92 88.79V97.1M683.25 88.65V97.1M684.57 91.29V97.1M685.89 91.23V97.1M687.22 91.29V97.1M688.54 91.56V97.1M689.87 89.59V97.1M691.19 91.29V97.1M692.51 91.89V97.1M693.84 91.59V97.1M695.16 92.4V97.1M696.48 79.46V97.1M697.81 79.47V97.1M699.13 90.07V97.1M700.45 88.3V97.1M701.78 88.09V97.1M703.1 90.6V97.1M704.43 91.3V97.1M705.75 86.5V97.1M707.07 88.8V97.1M708.4 88.84V97.1M709.72 89.1V97.1M711.04 89.1V97.1M712.37 89.12V97.1M713.69 82.78V97.1M715.01 82.71V97.1M716.34 82.16V97.1"/>
<path stroke="#242424" stroke-width="1.2" fill="none" stroke-linejoin="miter" stroke-miterlimit="2" d="M56.5 33.8V2.5H411.9V13M287.9 27.8V13H535.4V18.7M209.3 33.8V27.8H366.7V31.6M319.4 40.2V31.6H413V38M367.3 44.1V38H457.7V42.4M37.08 69.83V33.79H76.33V46.4M35.41 87.46V69.83H39.01V79.48M37.98 88.06V79.48H40.55V86.17M49.31 61.46V46.4H102.72V54.77M44.16 69.18V61.46H55.1V67M48.66 75.62V67H61.27V74.33M47.37 88.49V75.62H50.59V85.27M49.31 87.06V85.27H52.14V89.36M57.67 83.98V74.33H64.75V80.77M62.82 88.06V80.77H66.68V84.63M55.74 87V83.98H60.24V86.56M72.9 66V54.8H132.3V55.5M90.5 61.7V55.5H173.8V61.7M70.54 75.62V65.97H75.05V73.69M69.25 87.87V75.62H71.83V84.87M73.76 84.89V73.69H76.33V84.89M78.91 65.97V62.11H101.43V65.07M78.26 88.49V65.97H80.84V73.69M79.55 88.49V73.69H82.12V88.49M86.63 69.18V65.07H117.52V66.22M84.7 82.05V69.18H89.2V75.62M87.92 88.49V75.62H91.78V78.19M89.85 88.45V78.19H94.99V80.77M92.42 85.27V80.77H97.57V83.34M94.99 88.49V83.6H100.14V86.56M98.21 92.25V86.56H102.07V88.75M105.29 74.98V66.22H127.81V67.9M104 88.49V74.98H107.22V88.45M105.93 89.78V82.05H108.76V88.18M118.8 75.9V68H137.1V72.8M113.01 80.12V75.88H124.59V79.48M110.44 88.49V80.12H115.59V81.02M114.3 88.49V81.02H118.8V85.92M123.31 89.78V79.48H125.88V85.27M131.29 79.48V72.79H142.87V78.19M130 88.49V79.48H132.57V88.49M134.5 88.49V78.19H150.59V79.48M143.51 84.63V79.48H157.67V82.7M137.72 88.49V84.63H149.31V86.56M146.09 90V86.56H151.88V89.78M155.1 88.35V82.7H161.53V84.63M158.96 90.03V84.63H164.75V87.46M168.61 79.48V61.72H178.65V66.61M173.11 72.4V66.61H184.05V69.83M171.44 79.48V72.4H174.79V79.48M180.84 82.05V69.83H187.27V74.33M179.55 88.76V82.05H182.12V88.49M184.7 88.24V74.33H190.49V77.94M187.92 84.63V78.19H192.81V82.31M191.52 88.49V82.31H194.09V86.56M198.85 49.24V33.79H222.41V37.01M195.64 72.4V49.24H201.43V65.97M199.5 71.76V65.97H204.65V67.9M203.36 84.63V67.9H206.96V74.98M211.7 51.8V37H232.6V50.5M210.44 62.75V51.81H213.66V62.75M219.4 58.9V50.5H246.1V54.4M216.49 67.9V58.89H222.66V64.68M220.09 78.19V64.68H225.88V71.76M223.95 85.54V71.76H227.81V79.48M233.22 64.68V54.38H258.31V57.86M231.29 79.48V64.68H235.15V73.05M233.86 83.34V73.05H238.37V76.91M237.08 84.23V76.91H240.94V82.05M245.44 72.4V57.86H270.54V62.75M244.16 80.77V72.4H247.37V80.77M255.74 69.18V62.75H285.08V66.61M253.17 76.91V69.18H258.96V70.47M251.24 85.92V76.91H255.1V78.84M271.18 74.33V66.61H298.21V68.54M265.39 78.19V74.33H278.26V75.62M262.82 82.05V78.19H268.61V80.77M267.32 85.92V80.77H271.18V83.98M275.05 88.49V75.62H279.55V80.12M278.26 85.92V80.12H282.12V84.63M293.06 77.55V68.54H304V72.4M288.56 84.63V77.55H297.57V82.05M285.34 88.49V84.63H293.06V85.92M291.52 92.35V85.92H294.99V89.28M300.53 78.19V72.4H306.96V75.62M299.5 82.41V78.19H302.07V87.2M305.29 88.49V75.62H308.51V88.49M319.4 60.2V51.2H331.9V59.5M313.01 55.03V40.23H325.88V51.17M311.34 74.33V55.03H314.94V69.18M318.16 70.47V60.18H320.73V70.47M325.2 67.9V59.5H339.7V60.8M323.31 84.25V67.9H326.53V78.19M337.72 79.48V60.82H341.33V67.9M330 80.27V83.34H332.57V84.49M331.54 84.51V86.56H335.15V89.78M344.41 74.33V44.09H390.49V49.88M361.15 55.67V49.88H418.8V55.67M351.24 58.89V55.41H369.9V56.06M367.32 80.77V56.06H376.33V66.61M348.02 69.18V58.89H354.45V63.39M346.73 79.48V69.18H349.31V79.48M352.14 76.91V63.39H357.28V73.69M355.74 77.55V73.69H360.24V76.26M359.34 82.05V76.91H362.18V79.48M361.53 88.49V80.77H364.49V83.34M369.9 80.77V66.61H382.77V69.83M367.97 88.49V80.77H371.18V88.49M374.4 78.19V69.83H391.13V72.4M382.77 79.48V72.4H398.85V74.98M379.55 88.33V79.48H385.98V83.34M384.7 89.78V83.34H388.56V86.56M393.71 79.48V74.98H403.36V77.55M392.42 88.49V79.48H394.99V88.49M400.14 85.92V78.19H405.93V84.63M411.08 64.68V55.67H427.17V60.18M411.34 79.48V66.61H415.2V69.18M413.66 79.48V69.18H418.16V73.05M416.23 80.45V73.69H420.09V81.41M418.8 84.63V81.41H422.66V83.34M425.5 84.63V60.18H428.84V67.9M438.37 51.17V42.41H476.98V44.73M433.6 70.47V51.17H442.87V64.04M432.57 85.23V70.47H435.79V79.48M437.72 69.18V64.04H448.02V67.25M435.79 82.05V69.18H440.04V76.26M438.37 84.63V76.26H442.23V79.48M445.44 88.02V67.9H451.24V74.33M448.66 85.92V74.33H453.81V77.55M452.52 86.83V77.55H455.74V80.77M458.96 64.04V44.99H494.35V55.28M474.4 64.04V55.28H515.59V59.53M466.29 76.91V64.04H481.48V64.68M478.26 80.77V64.68H485.34V72.4M480.84 80.77V72.4H490.49V75.62M485.34 80.77V75.62H497.57V77.55M482.77 87.77V80.77H487.92V83.34M494.35 82.05V77.55H500.79V80.77M496.92 87.2V81.02H503.36V84.63M463.72 82.05V76.91H469.25V78.84M467.97 85.92V79.48H471.83V82.7M470.54 87.73V83.34H474.4V86.5M509.15 70.47V59.53H522.02V65.58M507.48 87.88V70.47H510.82V79.48M517.52 73.69V65.58H526.53V73.05M514.94 84.63V73.69H520.09V79.48M518.8 88.19V79.48H522.02V85.38M525.5 80.49V73.05H528.07V79.48M530.2 50.2V18.7H540.5V25.7M532.2 50.2V25.7H545V26.6M537.3 43.8V26.6H577.2V44.1M535.1 65V43.8H538.4V65M541.4 50.5V26.6H541.4V50.5M553.17 58.24V44.09H600.79V44.47M582.12 50.52V44.47H619.45V47.31M547.37 65.97V58.24H558.96V62.11M545.44 79.48V65.97H549.95V69.18M548.66 75.62V69.18H551.88V75.62M555.74 72.4V62.11H561.53V67.9M559.86 79.48V67.9H563.46V74.33M562.82 88.09V74.33H566.04V81.41M564.49 87.96V81.41H567.58V86.56M573.76 60.18V50.52H591.13V54.38M571.44 70.47V60.18H576.98V61.46M575.69 76.26V61.46H578.65V65.32M586.63 61.46V54.38H595.89V60.18M582.51 69.83V61.72H590.23V69.18M581.48 82.05V69.83H585.34V71.76M594.35 73.05V60.18H597.57V72.4M605.3 57.3V47.6H633.2V52.2M602.07 65.32V57.34H608.51V60.18M606.96 69.18V60.18H610.44V69.18M608.51 85.14V69.18H613.66V73.69M611.72 84.23V73.69H614.94V82.05M620.7 64.7V52.2H646.1V58.6M618.16 76.26V64.68H623.31V72.4M629.4 63.4V58.6H660.9V59.3M640.94 64.68V59.27H680.84V63.01M631.03 82.05V70.47H635.41V78.84M631.9 70.5V63.4H631.9V70.5M639.27 76.91V64.68H642.61V75.62M657.28 71.11V63.01H704V66.61M648.02 76.91V71.5H667.32V72.4M662.18 74.33V72.4H671.83V73.05M646.09 88.89V76.91H651.24V78.84M649.31 82.7V79.48H653.81V82.05M652.52 88.49V82.05H655.74V87.2M659.86 84.63V74.33H664.11V77.55M668.61 84.63V73.69H675.69V77.55M671.18 82.05V78.19H682.77V80.12M673.76 85.92V82.05H678.91V84.63M676.98 88.49V80.12H686.63V81.02M678.91 91.06V85.92H682.77V88.95M685.98 88.49V81.41H690.49V86.56M688.56 89.78V86.56H693.71V89.78M696.92 78.84V66.87H709.79V71.11M704.9 77.55V71.5H714.94V75.62M700.53 79.48V77.55H708.51V78.84M699.5 87.2V79.48H702.07V85.92M707.22 84.63V78.84H710.44V83.34M713.66 82.05V75.62H716.23V82.05M34.5 89.8V87.46H36.41V89.8M39.89 88.08V86.17H41.21V88.08M46.71 91.96V88.49H48.03V91.96M65.36 88.21V84.63H68V88.21M59.24 89.76V86.56H61.24V89.76M76.94 91.65V88.49H79.58V91.65M78.89 91.7V88.49H80.21V91.7M86.6 92.34V88.49H89.24V92.34M91.76 91.05V85.27H93.08V91.05M93.99 91.05V88.49H95.99V91.05M101.07 91.65V88.75H103.07V91.65M103 91.65V88.49H105V91.65M109.44 91.52V88.49H111.44V91.52M112.98 90.55V88.49H115.62V90.55M118.14 91.65V85.92H119.46V91.65M124.56 91.3V85.27H127.2V91.3M129.34 92.21V88.49H130.66V92.21M131.57 91.95V88.49H133.57V91.95M133.84 92.24V88.49H135.16V92.24M137.06 90.75V88.49H138.38V90.75M150.88 91.72V89.78H152.88V91.72M158.3 91.95V90.03H159.62V91.95M163.43 91.95V87.46H166.07V91.95M174.13 89.27V79.48H175.45V89.27M186.92 89.46V84.63H188.92V89.46M192.77 89.46V86.56H195.41V89.46M218.77 86.18V78.19H221.41V86.18M226.81 86.3V79.48H228.81V86.3M230.63 87.33V79.48H231.95V87.33M232.86 86.63V83.34H234.86V86.63M240.28 85.53V82.05H241.6V85.53M254.44 88.43V78.84H255.76V88.43M261.82 91.7V82.05H263.82V91.7M266 91.41V85.92H268.64V91.41M270.52 90.69V83.98H271.84V90.69M277.6 89.85V85.92H278.92V89.85M281.46 87.15V84.63H282.78V87.15M284.34 92.72V88.49H286.34V92.72M301.07 92.73V87.2H303.07V92.73M303.97 92.73V88.49H306.61V92.73M307.51 92.8V88.49H309.51V92.8M314.28 75.34V69.18H315.6V75.34M325.87 85.85V78.19H327.19V85.85M334.49 94.39V89.78H335.81V94.39M351.14 81.09V76.91H353.14V81.09M354.74 81.09V77.55H356.74V81.09M358.02 88.58V82.05H360.66V88.58M360.86 88.74V79.48H363.5V88.74M363.83 92.29V83.34H365.15V92.29M366.65 92.99V88.49H369.29V92.99M369.86 92.99V88.49H372.5V92.99M387.24 93.11V86.56H389.88V93.11M399.48 89.19V85.92H400.8V89.19M404.93 91.95V84.63H406.93V91.95M417.8 90.6V84.63H419.8V90.6M421.66 90.57V83.34H423.66V90.57M424.18 88.12V84.63H426.82V88.12M427.84 90.42V67.9H429.84V90.42M434.79 88.46V79.48H436.79V88.46M434.79 88.46V82.05H436.79V88.46M437.05 89.01V84.63H439.69V89.01M441.23 87.83V79.48H443.23V87.83M448 87.83V85.92H449.32V87.83M454.74 88.43V80.77H456.74V88.43M487.26 92.73V83.34H488.58V92.73M493.69 89.73V82.05H495.01V89.73M496.26 91.43V87.2H497.58V91.43M502.7 92.88V84.63H504.02V92.88M463.06 88.9V82.05H464.38V88.9M466.97 88.89V85.92H468.97V88.89M509.5 87.6V79.48H512.14V87.6M514.28 88.46V84.63H515.6V88.46M544.44 92.08V79.48H546.44V92.08M548 89.51V75.62H549.32V89.51M550.88 78.45V75.62H552.88V78.45M554.74 78.27V72.4H556.74V78.27M566.92 90.79V86.56H568.24V90.79M570.12 88.99V70.47H572.76V88.99M577.33 90.72V65.32H579.97V90.72M580.82 86.09V82.05H582.14V86.09M584.02 85.85V71.76H586.66V85.85M593.69 75.47V73.05H595.01V75.47M596.25 82.45V72.4H598.89V82.45M601.07 67.59V65.32H603.07V67.59M606.3 85.33V69.18H607.62V85.33M614.28 86.93V82.05H615.6V86.93M622.65 87.84V72.4H623.97V87.84M628.4 87.21V63.4H630.4V87.21M630.37 86.93V82.05H631.69V86.93M634.41 86.93V78.84H636.41V86.93M641.61 77.24V75.62H643.61V77.24M648.65 92.99V82.7H649.97V92.99M651.52 92.82V88.49H653.52V92.82M655.08 90.49V87.2H656.4V90.49M659.2 89.19V84.63H660.52V89.19M663.45 90.72V77.55H664.77V90.72M667.95 91.69V84.63H669.27V91.69M669.86 90.49V82.05H672.5V90.49M672.44 91.19V85.92H675.08V91.19M678.25 93.07V84.63H679.57V93.07M676.32 92.99V88.49H677.64V92.99M677.91 93.07V91.06H679.91V93.07M684.66 91.69V88.49H687.3V91.69M687.9 91.96V89.78H689.22V91.96M692.71 92.8V89.78H694.71V92.8M698.18 88.7V87.2H700.82V88.7M701.07 91V85.92H703.07V91M705.9 89.24V84.63H708.54V89.24M709.78 89.5V83.34H711.1V89.5"/>
<path stroke="#303030" stroke-width="1.0" fill="none" d="M34.66 89.9V76.9H35.99V89.84M38.63 88.26V81.76H41.28V87.99M42.6 89.56V83.56H43.93V70.44M43.93 70.44V84.06H46.57V89.56M46.57 89.56V86.57H49.22V87.26M54.52 87.31V85.28H55.84V87.2M57.16 87.26V85.28H58.49V87.29M61.13 89.81V85.81H62.46V88.26M63.78 88.3V82.07H66.43V88.26M67.75 88.31V84.81H71.72V85.07M73.05 87.37V85.25H77.02V91.75M78.34 91.8V85.3H80.99V90.53M82.31 89.95V84.45H84.96V82.55M84.96 82.55V84.25H87.61V91.75M87.61 91.75V85.25H88.93V91.62M90.25 88.65V87.65H91.58V91.15M94.23 91.05V84.9H95.55V91.15M95.55 91.15V87.86H98.2V92.45M100.84 90.55V87.86H102.17V90.56M103.49 91.75V87.75H106.14V90.25M106.14 90.25V84.75H108.79V88.38M110.11 91.75V88.25H111.43V91.62M112.76 90.65V82.32H115.4V90.65M116.73 90.45V82.32H118.05V91.75M119.38 89.95V85.65H123.35V91.15M125.99 88.65V86.95H128.64V92.45M129.96 92.31V88.81H131.29V92.05M132.61 92.26V85.84H135.26V92.34M135.26 92.34V79.49H136.58V90.85M137.91 90.64V85.93H139.23V90.35M139.23 90.35V86.35H143.2V88.54M144.52 90.35V87.86H147.17V90.05M148.5 93.35V87.86H152.47V91.82M153.79 91.66V85.16H156.44V88.52M157.76 88.77V88.49H160.41V91.99M164.38 91.78V85.93H165.7V90.85M167.03 90.35V82.85H168.35V80.41M168.35 80.41V73.28H169.67V80.78M171 80.2V73.7H172.32V80.23M174.97 89.37V83.35H178.94V88.96M180.26 88.75V83.35H181.59V88.81M184.23 88.44V80.06H185.56V89.56M192.18 89.56V83.61H193.5V89.75M193.5 89.75V83.61H194.82V73.1M196.15 73.32V61.3H197.47V73.34M198.79 72.92V67.27H200.12V73.23M201.44 89.23V78.73H202.76V85.43M204.09 85.55V76.05H206.74V76M208.06 87.43V76.93H209.38V63.29M212.03 63.96V61.3H213.35V63.77M214.68 63.31V61.3H216V68.58M217.32 68.74V78.78H221.3V86.28M222.62 85.74V76.24H225.27V85.56M225.27 85.56V77.9H229.24V86.4M231.88 87.18V83.18H234.53V86.73M235.86 86.63V79.13H238.5V84.42M239.83 85.43V81.43H242.47V87.93M245.12 81.66V77.82H246.44V81.82M247.77 81.84V75.53H249.09V88.53M249.09 88.53V82.53H251.74V86.23M259.68 70.98V79.49H263.65V91.8M263.65 91.8V87.3H267.62V91.8M268.95 90.5V83H271.59V89.3M274.24 89.6V85.5H276.89V90M278.21 89.86V86.45H279.54V89.95M279.54 89.95V83.45H280.86V87M282.18 87.25V81.6H283.51V91.1M284.83 91.2V85.93H287.48V93.01M288.8 93.05V85.93H290.12V94.12M291.45 93.91V88.41H292.77V89.32M294.1 89.54V87.22H296.74V82.79M298.07 83.23V84.7H302.04V92.2M303.36 92.83V83.33H304.69V91.03M306.01 92.83V84.5H308.66V93M311.3 75.23V69.94H313.95V75.44M315.27 74.99V83.4H316.6V92.9M316.6 92.9V88.4H319.25V71.18M319.25 71.18V62.18H320.57V71.68M321.89 92.96V83.46H323.22V84.45M331.16 84.71V88.71H333.81V94.71M333.81 94.71V87.86H336.45V69.11M337.78 68.79V62.12H341.75V68.87M343.07 89.1V85.1H347.04V80M348.37 80.46V76.46H349.69V80.31M351.01 81.19V77.19H352.34V80.77M353.66 80.98V74.99H357.63V80.71M357.63 80.71V78.21H360.28V88.68M361.6 88.71V82.89H365.57V92.39M366.9 92.35V87.59H369.54V93.09M369.54 93.09V87.09H372.19V89.29M373.51 78.76V84.35H377.49V88.85M378.81 88.29V82.03H380.13V88.53M382.78 91.04V84.64H384.1V90.89M386.75 93.09V84.64H389.4V93.21M389.4 93.21V80.21H390.72V90.89M392.05 90.09V84.59H394.69V89.15M396.02 89.29V78.85H398.66V89.35M399.99 89.29V85.29H401.31V89.15M401.31 89.15V84.79H403.96V91.29M405.28 91.79V88.29H409.25V65.7M410.58 65.6V77.06H414.55V80.56M414.55 80.56V82.71H418.52V90.72M419.84 90.7V82.71H421.17V90.67M421.17 90.67V86.67H425.14V88.32M426.46 85.72V87.02H427.78V90.52M427.78 90.52V79.02H431.75V87.86M433.08 85.43V84.53H435.73V88.53M437.05 88.56V81.61H439.7V89.11M441.02 86.73V80.73H442.34V86.63M442.34 86.63V80.13H446.31V86.23M448.96 87.93V81.93H451.61V87.93M454.26 87.09V79.59H458.23V65.32M458.23 65.32V61.32H460.87V64.62M462.2 88.72V79.22H464.85V88.72M467.49 88.99V84.99H468.82V88.02M471.46 88.72V85.22H474.11V86.7M476.76 87.86V84.36H478.08V81.33M478.08 81.33V73.7H480.73V81.6M482.05 88.03V82.07H484.7V90.63M486.02 90.71V85.53H488.67V91.53M490 91.69V87.19H493.97V89.83M493.97 89.83V83.03H497.94V91.53M500.58 91.72V86.33H501.91V92.83M501.91 92.83V82.32H504.56V88.03M504.56 88.03V84.58H507.2V88.08M508.53 85.43V77.93H509.85V85.15M512.5 87.7V77.06H515.14V88.56M516.47 89.23V80.78H519.12V88.39M521.76 85.58V80.78H525.73V80.69M527.06 80.43V74.35H529.7V51.41M532.35 51.44V61.3H536.32V65.76M537.65 66.09V61.3H541.62V51.43M542.94 89.16V80.68H544.26V92.18M545.59 92.27V86.27H548.24V89.61M550.88 78.55V73.05H552.21V78.25M553.53 78.55V74.05H556.18V78.35M566.77 90.89V83.39H570.74V85.48M572.06 89.23V76.23H573.38V89.09M574.71 76.81V73.05H577.36V77.05M577.36 77.05V83.32H580V90.82M581.33 85.95V78.69H582.65V86.19M587.94 85.35V79.35H590.59V69.72M593.24 75.38V69.78H597.21V82.78M598.53 82.55V72.05H601.18V67.35M602.5 67.69V61.3H603.83V67.59M606.48 81.15V73.93H607.8V85.43M607.8 85.43V79.43H610.45V85.38M610.45 85.38V77.88H613.09V84.3M614.42 87.03V78.53H617.06V77.41M618.39 77.52V70.02H619.71V76.81M622.36 86.87V82.37H626.33V83.14M627.65 87.24V78.81H628.98V87.31M628.98 87.31V81.81H630.3V87.03M631.62 87.02V81.52H635.6V86.18M638.24 86.88V76.38H640.89V76.85M642.21 77.34V80.79H644.86V89.29M647.51 89.29V82.79H648.83V89.11M651.48 92.92V84.42H654.13V92.35M655.45 90.59V83.35H659.42V89.29M664.72 90.82V85.74H668.69V91.74M670.01 90.59V86.59H672.66V90.49M673.98 92.39V83.35H676.63V91.06M677.95 93.09V87.81H680.6V93.31M681.92 89.29V87.22H685.89V91.73M687.22 91.79V87.86H689.87V90.09M691.19 91.79V87.86H692.51V92.39M693.84 92.09V87.86H696.48V79.96M697.81 79.97V80.78H699.13V90.57M705.75 87V81.1H709.72V89.6M711.04 89.6V82.12H712.37V89.62M713.69 83.28V76.92H716.34V82.66"/>
<rect x="34.9" y="100.8" width="682.1" height="13.8" fill="#c6c6c6"/>
<path fill="#ff1a0a" d="M34.9 100.8h3.97v13.8h-3.97zM99.67 100.8h1.32v13.8h-1.32zM106.28 100.8h2.64v13.8h-2.64zM127.43 100.8h2.64v13.8h-2.64zM225.25 100.8h2.64v13.8h-2.64zM353.48 100.8h1.32v13.8h-1.32zM530.61 100.8h3.97v13.8h-3.97zM537.22 100.8h1.32v13.8h-1.32zM542.51 100.8h1.32v13.8h-1.32zM557.05 100.8h2.64v13.8h-2.64zM561.02 100.8h5.29v13.8h-5.29zM572.91 100.8h3.97v13.8h-3.97zM579.52 100.8h5.29v13.8h-5.29zM592.74 100.8h1.32v13.8h-1.32zM599.35 100.8h2.64v13.8h-2.64zM605.96 100.8h5.29v13.8h-5.29zM612.57 100.8h2.64v13.8h-2.64zM617.86 100.8h1.32v13.8h-1.32zM627.11 100.8h7.93v13.8h-7.93zM640.33 100.8h2.64v13.8h-2.64zM650.91 100.8h2.64v13.8h-2.64zM665.45 100.8h2.64v13.8h-2.64zM672.06 100.8h7.93v13.8h-7.93zM682.63 100.8h2.64v13.8h-2.64zM689.24 100.8h3.97v13.8h-3.97z"/>
<path fill="#ff3cf5" d="M45.48 100.8h1.32v13.8h-1.32zM102.32 100.8h2.64v13.8h-2.64zM108.93 100.8h1.32v13.8h-1.32zM114.21 100.8h2.64v13.8h-2.64zM124.79 100.8h2.64v13.8h-2.64zM131.4 100.8h1.32v13.8h-1.32zM139.33 100.8h1.32v13.8h-1.32zM168.41 100.8h1.32v13.8h-1.32zM186.92 100.8h2.64v13.8h-2.64zM194.85 100.8h1.32v13.8h-1.32zM324.4 100.8h1.32v13.8h-1.32zM327.04 100.8h2.64v13.8h-2.64zM331.01 100.8h2.64v13.8h-2.64zM341.58 100.8h1.32v13.8h-1.32zM362.73 100.8h2.64v13.8h-2.64zM393.13 100.8h2.64v13.8h-2.64zM409 100.8h2.64v13.8h-2.64zM426.18 100.8h2.64v13.8h-2.64zM485.67 100.8h1.32v13.8h-1.32zM494.92 100.8h1.32v13.8h-1.32zM509.46 100.8h3.97v13.8h-3.97zM525.32 100.8h2.64v13.8h-2.64zM547.8 100.8h2.64v13.8h-2.64zM551.76 100.8h2.64v13.8h-2.64zM566.3 100.8h2.64v13.8h-2.64zM596.71 100.8h2.64v13.8h-2.64zM619.18 100.8h1.32v13.8h-1.32zM621.82 100.8h1.32v13.8h-1.32zM635.04 100.8h1.32v13.8h-1.32zM693.21 100.8h1.32v13.8h-1.32zM705.1 100.8h1.32v13.8h-1.32z"/>
<path fill="#2a22ff" d="M46.8 100.8h2.64v13.8h-2.64zM52.08 100.8h2.64v13.8h-2.64zM65.3 100.8h2.64v13.8h-2.64zM69.27 100.8h2.64v13.8h-2.64zM75.88 100.8h2.64v13.8h-2.64zM130.08 100.8h1.32v13.8h-1.32zM132.72 100.8h1.32v13.8h-1.32zM155.19 100.8h3.97v13.8h-3.97zM167.09 100.8h1.32v13.8h-1.32zM178.99 100.8h1.32v13.8h-1.32zM182.95 100.8h2.64v13.8h-2.64zM190.88 100.8h2.64v13.8h-2.64zM197.49 100.8h3.97v13.8h-3.97zM202.78 100.8h2.64v13.8h-2.64zM206.75 100.8h2.64v13.8h-2.64zM213.36 100.8h5.29v13.8h-5.29zM219.97 100.8h3.97v13.8h-3.97zM227.9 100.8h1.32v13.8h-1.32zM239.79 100.8h2.64v13.8h-2.64zM250.37 100.8h3.97v13.8h-3.97zM258.3 100.8h1.32v13.8h-1.32zM259.62 100.8h2.64v13.8h-2.64zM262.27 100.8h1.32v13.8h-1.32zM267.55 100.8h2.64v13.8h-2.64zM279.45 100.8h3.97v13.8h-3.97zM287.38 100.8h1.32v13.8h-1.32zM291.35 100.8h7.93v13.8h-7.93zM304.57 100.8h2.64v13.8h-2.64zM309.86 100.8h2.64v13.8h-2.64zM320.43 100.8h1.32v13.8h-1.32zM340.26 100.8h1.32v13.8h-1.32zM350.83 100.8h2.64v13.8h-2.64zM358.77 100.8h2.64v13.8h-2.64zM366.7 100.8h1.32v13.8h-1.32zM369.34 100.8h1.32v13.8h-1.32zM374.63 100.8h1.32v13.8h-1.32zM381.24 100.8h3.97v13.8h-3.97zM389.17 100.8h2.64v13.8h-2.64zM397.1 100.8h2.64v13.8h-2.64zM401.07 100.8h2.64v13.8h-2.64zM414.29 100.8h1.32v13.8h-1.32zM416.93 100.8h5.29v13.8h-5.29zM434.11 100.8h3.97v13.8h-3.97zM446.01 100.8h7.93v13.8h-7.93zM475.09 100.8h5.29v13.8h-5.29zM483.02 100.8h2.64v13.8h-2.64zM490.96 100.8h3.97v13.8h-3.97zM502.85 100.8h1.32v13.8h-1.32zM518.72 100.8h2.64v13.8h-2.64zM539.87 100.8h2.64v13.8h-2.64zM587.45 100.8h2.64v13.8h-2.64zM623.15 100.8h1.32v13.8h-1.32zM636.36 100.8h2.64v13.8h-2.64zM642.97 100.8h1.32v13.8h-1.32zM670.73 100.8h1.32v13.8h-1.32zM685.27 100.8h1.32v13.8h-1.32zM706.42 100.8h1.32v13.8h-1.32z"/>
<path fill="#10f020" d="M56.05 100.8h2.64v13.8h-2.64zM62.66 100.8h2.64v13.8h-2.64zM67.95 100.8h1.32v13.8h-1.32zM78.52 100.8h2.64v13.8h-2.64zM119.5 100.8h1.32v13.8h-1.32zM135.36 100.8h3.97v13.8h-3.97zM141.97 100.8h3.97v13.8h-3.97zM148.58 100.8h1.32v13.8h-1.32zM177.67 100.8h1.32v13.8h-1.32zM180.31 100.8h2.64v13.8h-2.64zM189.56 100.8h1.32v13.8h-1.32zM193.53 100.8h1.32v13.8h-1.32zM218.64 100.8h1.32v13.8h-1.32zM283.42 100.8h1.32v13.8h-1.32zM288.7 100.8h1.32v13.8h-1.32zM300.6 100.8h2.64v13.8h-2.64zM334.97 100.8h2.64v13.8h-2.64zM460.55 100.8h7.93v13.8h-7.93zM497.56 100.8h1.32v13.8h-1.32zM522.68 100.8h2.64v13.8h-2.64z"/>
<path fill="#6a5cff" d="M73.24 100.8h1.32v13.8h-1.32zM270.2 100.8h2.64v13.8h-2.64zM283.42 100.8h2.64v13.8h-2.64zM375.95 100.8h1.32v13.8h-1.32zM378.59 100.8h2.64v13.8h-2.64zM411.64 100.8h1.32v13.8h-1.32zM442.04 100.8h2.64v13.8h-2.64zM456.59 100.8h3.97v13.8h-3.97zM472.45 100.8h2.64v13.8h-2.64zM500.21 100.8h1.32v13.8h-1.32zM505.5 100.8h2.64v13.8h-2.64z"/>
<path fill="#9adcf0" d="M169.73 100.8h2.64v13.8h-2.64zM209.39 100.8h2.64v13.8h-2.64zM246.4 100.8h1.32v13.8h-1.32zM275.49 100.8h1.32v13.8h-1.32zM346.87 100.8h2.64v13.8h-2.64zM368.02 100.8h1.32v13.8h-1.32zM403.71 100.8h3.97v13.8h-3.97zM422.22 100.8h3.97v13.8h-3.97zM439.4 100.8h2.64v13.8h-2.64zM516.07 100.8h2.64v13.8h-2.64zM568.95 100.8h2.64v13.8h-2.64zM594.06 100.8h2.64v13.8h-2.64zM601.99 100.8h2.64v13.8h-2.64zM604.64 100.8h1.32v13.8h-1.32zM646.94 100.8h2.64v13.8h-2.64zM654.87 100.8h2.64v13.8h-2.64zM669.41 100.8h1.32v13.8h-1.32zM703.78 100.8h1.32v13.8h-1.32zM710.39 100.8h3.97v13.8h-3.97z"/>
<path fill="#0a9a48" d="M432.79 100.8h1.32v13.8h-1.32zM444.69 100.8h1.32v13.8h-1.32zM453.94 100.8h2.64v13.8h-2.64zM468.48 100.8h3.97v13.8h-3.97zM534.58 100.8h2.64v13.8h-2.64z"/>
<path fill="#c01040" d="M513.43 100.8h1.32v13.8h-1.32z"/>
<g fill="#969696"><path d="M149.36 290.6h1.32v20.9h-1.32zM153.33 290.6h1.32v20.9h-1.32zM496.03 290.6h1.32v20.9h-1.32zM501.33 290.6h1.32v20.9h-1.32zM513.23 290.6h1.32v20.9h-1.32zM537.05 290.6h1.32v20.9h-1.32zM542.34 290.6h1.32v20.9h-1.32zM551.61 290.6h1.32v20.9h-1.32zM588.65 290.6h1.32v20.9h-1.32zM592.62 290.6h1.32v20.9h-1.32zM620.41 290.6h1.32v20.9h-1.32zM625.7 290.6h1.32v20.9h-1.32zM664.07 290.6h1.32v20.9h-1.32zM703.77 290.6h1.32v20.9h-1.32z"/>
<path d="M158.63 311.7h1.32v20.9h-1.32zM513.23 311.7h1.32v20.9h-1.32zM522.5 311.7h1.32v20.9h-1.32zM542.34 311.7h1.32v20.9h-1.32zM551.61 311.7h1.32v20.9h-1.32zM571.45 311.7h1.32v20.9h-1.32zM620.41 311.7h1.32v20.9h-1.32zM625.7 311.7h1.32v20.9h-1.32zM669.37 311.7h1.32v20.9h-1.32zM711.71 311.7h1.32v20.9h-1.32z"/>
<path d="M494.71 353.9h1.32v20.9h-1.32zM518.53 353.9h1.32v20.9h-1.32zM529.11 353.9h1.32v20.9h-1.32zM542.34 353.9h1.32v20.9h-1.32zM599.24 353.9h1.32v20.9h-1.32zM609.82 353.9h1.32v20.9h-1.32zM623.06 353.9h1.32v20.9h-1.32zM665.4 353.9h1.32v20.9h-1.32z"/>
<path d="M163.92 375h1.32v20.9h-1.32zM173.18 375h1.32v20.9h-1.32zM204.94 375h1.32v20.9h-1.32zM223.46 375h1.32v20.9h-1.32zM230.08 375h1.32v20.9h-1.32zM273.74 375h1.32v20.9h-1.32zM306.82 375h1.32v20.9h-1.32zM358.42 375h1.32v20.9h-1.32zM398.12 375h1.32v20.9h-1.32zM400.77 375h1.32v20.9h-1.32zM470.89 375h1.32v20.9h-1.32zM490.74 375h1.32v20.9h-1.32zM525.14 375h1.32v20.9h-1.32zM527.79 375h1.32v20.9h-1.32zM572.78 375h1.32v20.9h-1.32zM656.13 375h1.32v20.9h-1.32zM679.95 375h2.65v20.9h-2.65zM689.21 375h1.32v20.9h-1.32z"/></g>
<g fill="#4c4c4c"><path d="M117.61 121.8h1.32v20.9h-1.32zM140.1 121.8h1.32v20.9h-1.32zM144.07 121.8h1.32v20.9h-1.32zM146.72 121.8h1.32v20.9h-1.32zM149.36 121.8h1.32v20.9h-1.32zM527.79 121.8h1.32v20.9h-1.32zM591.3 121.8h1.32v20.9h-1.32zM593.95 121.8h1.32v20.9h-1.32z"/>
<path d="M43.51 142.9h1.32v20.9h-1.32zM50.13 142.9h1.32v20.9h-1.32zM54.1 142.9h1.32v20.9h-1.32zM116.29 142.9h1.32v20.9h-1.32zM129.52 142.9h1.32v20.9h-1.32zM145.4 142.9h1.32v20.9h-1.32zM148.04 142.9h1.32v20.9h-1.32zM150.69 142.9h1.32v20.9h-1.32zM175.83 142.9h1.32v20.9h-1.32zM535.73 142.9h1.32v20.9h-1.32z"/>
<path d="M165.24 164h1.32v20.9h-1.32zM206.26 164h1.32v20.9h-1.32zM235.37 164h1.32v20.9h-1.32zM312.11 164h1.32v20.9h-1.32zM345.19 164h1.32v20.9h-1.32zM354.45 164h1.32v20.9h-1.32zM424.58 164h1.32v20.9h-1.32zM437.81 164h1.32v20.9h-1.32zM476.19 164h1.32v20.9h-1.32zM511.91 164h1.32v20.9h-1.32zM529.11 164h1.32v20.9h-1.32zM542.34 164h1.32v20.9h-1.32zM551.61 164h1.32v20.9h-1.32zM589.98 164h1.32v20.9h-1.32zM592.62 164h1.32v20.9h-1.32zM595.27 164h1.32v20.9h-1.32zM608.5 164h1.32v20.9h-1.32zM619.09 164h1.32v20.9h-1.32zM632.32 164h1.32v20.9h-1.32zM683.92 164h1.32v20.9h-1.32z"/>
<path d="M36.9 185.1h1.32v20.9h-1.32zM89.82 185.1h1.32v20.9h-1.32zM103.05 185.1h1.32v20.9h-1.32zM114.96 185.1h1.32v20.9h-1.32zM128.19 185.1h1.32v20.9h-1.32zM134.81 185.1h1.32v20.9h-1.32zM144.07 185.1h1.32v20.9h-1.32zM149.36 185.1h1.32v20.9h-1.32zM186.41 185.1h1.32v20.9h-1.32zM310.79 185.1h1.32v20.9h-1.32zM432.52 185.1h1.32v20.9h-1.32zM507.94 185.1h1.32v20.9h-1.32zM534.4 185.1h1.32v20.9h-1.32zM538.37 185.1h1.32v20.9h-1.32zM544.99 185.1h1.32v20.9h-1.32zM558.22 185.1h1.32v20.9h-1.32zM570.13 185.1h1.32v20.9h-1.32zM576.75 185.1h1.32v20.9h-1.32zM586.01 185.1h1.32v20.9h-1.32zM591.3 185.1h1.32v20.9h-1.32zM609.82 185.1h1.32v20.9h-1.32zM624.38 185.1h1.32v20.9h-1.32zM668.04 185.1h1.32v20.9h-1.32zM678.63 185.1h1.32v20.9h-1.32zM694.51 185.1h1.32v20.9h-1.32zM701.12 185.1h1.32v20.9h-1.32zM714.35 185.1h1.32v20.9h-1.32z"/>
<path d="M47.48 206.2h1.32v20.9h-1.32zM60.71 206.2h1.32v20.9h-1.32zM166.57 206.2h1.32v20.9h-1.32zM210.23 206.2h1.32v20.9h-1.32zM358.42 206.2h1.32v20.9h-1.32zM439.14 206.2h1.32v20.9h-1.32zM443.11 206.2h1.32v20.9h-1.32zM501.33 206.2h1.32v20.9h-1.32zM620.41 206.2h1.32v20.9h-1.32zM633.64 206.2h1.32v20.9h-1.32zM686.57 206.2h1.32v20.9h-1.32zM694.51 206.2h1.32v20.9h-1.32z"/>
<path d="M46.16 227.3h1.32v20.9h-1.32zM48.8 227.3h1.32v20.9h-1.32zM52.77 227.3h1.32v20.9h-1.32zM56.74 227.3h1.32v20.9h-1.32zM64.68 227.3h1.32v20.9h-1.32zM69.98 227.3h1.32v20.9h-1.32zM73.94 227.3h1.32v20.9h-1.32zM80.56 227.3h1.32v20.9h-1.32zM83.21 227.3h1.32v20.9h-1.32zM95.12 227.3h1.32v20.9h-1.32zM104.38 227.3h1.32v20.9h-1.32zM112.32 227.3h1.32v20.9h-1.32zM117.61 227.3h1.32v20.9h-1.32zM122.9 227.3h1.32v20.9h-1.32zM125.55 227.3h1.32v20.9h-1.32zM152.01 227.3h1.32v20.9h-1.32zM163.92 227.3h1.32v20.9h-1.32zM179.8 227.3h1.32v20.9h-1.32zM204.94 227.3h1.32v20.9h-1.32zM212.88 227.3h1.32v20.9h-1.32zM215.52 227.3h1.32v20.9h-1.32zM219.49 227.3h1.32v20.9h-1.32zM241.99 227.3h1.32v20.9h-1.32zM248.6 227.3h1.32v20.9h-1.32zM256.54 227.3h1.32v20.9h-1.32zM269.77 227.3h1.32v20.9h-1.32zM276.39 227.3h1.32v20.9h-1.32zM286.97 227.3h1.32v20.9h-1.32zM302.85 227.3h1.32v20.9h-1.32zM306.82 227.3h1.32v20.9h-1.32zM318.73 227.3h1.32v20.9h-1.32zM327.99 227.3h1.32v20.9h-1.32zM331.96 227.3h1.32v20.9h-1.32zM335.93 227.3h1.32v20.9h-1.32zM361.07 227.3h1.32v20.9h-1.32zM379.59 227.3h1.32v20.9h-1.32zM382.24 227.3h1.32v20.9h-1.32zM388.86 227.3h1.32v20.9h-1.32zM392.83 227.3h1.32v20.9h-1.32zM407.38 227.3h1.32v20.9h-1.32zM425.91 227.3h1.32v20.9h-1.32zM433.84 227.3h1.32v20.9h-1.32zM453.69 227.3h1.32v20.9h-1.32zM477.51 227.3h1.32v20.9h-1.32zM481.48 227.3h1.32v20.9h-1.32zM496.03 227.3h1.32v20.9h-1.32zM498.68 227.3h1.32v20.9h-1.32zM503.97 227.3h1.32v20.9h-1.32zM509.26 227.3h1.32v20.9h-1.32zM527.79 227.3h1.32v20.9h-1.32zM531.76 227.3h1.32v20.9h-1.32zM537.05 227.3h1.32v20.9h-1.32zM539.7 227.3h1.32v20.9h-1.32zM568.81 227.3h1.32v20.9h-1.32zM593.95 227.3h1.32v20.9h-1.32zM600.56 227.3h1.32v20.9h-1.32zM612.47 227.3h1.32v20.9h-1.32zM653.49 227.3h1.32v20.9h-1.32zM672.01 227.3h1.32v20.9h-1.32zM679.95 227.3h1.32v20.9h-1.32zM685.24 227.3h1.32v20.9h-1.32zM697.15 227.3h1.32v20.9h-1.32zM702.45 227.3h1.32v20.9h-1.32zM705.09 227.3h1.32v20.9h-1.32zM710.38 227.3h1.32v20.9h-1.32zM713.03 227.3h1.32v20.9h-1.32z"/>
<path d="M42.19 248.4h1.32v20.9h-1.32zM56.74 248.4h1.32v20.9h-1.32zM79.24 248.4h1.32v20.9h-1.32zM96.44 248.4h1.32v20.9h-1.32zM104.38 248.4h1.32v20.9h-1.32zM113.64 248.4h1.32v20.9h-1.32zM117.61 248.4h1.32v20.9h-1.32zM166.57 248.4h1.32v20.9h-1.32zM232.72 248.4h1.32v20.9h-1.32zM308.14 248.4h1.32v20.9h-1.32zM406.06 248.4h1.32v20.9h-1.32zM482.8 248.4h1.32v20.9h-1.32zM502.65 248.4h1.32v20.9h-1.32zM505.29 248.4h1.32v20.9h-1.32zM513.23 248.4h1.32v20.9h-1.32zM529.11 248.4h1.32v20.9h-1.32zM551.61 248.4h1.32v20.9h-1.32zM554.25 248.4h1.32v20.9h-1.32zM571.45 248.4h1.32v20.9h-1.32zM588.65 248.4h1.32v20.9h-1.32zM591.3 248.4h1.32v20.9h-1.32zM593.95 248.4h1.32v20.9h-1.32zM603.21 248.4h1.32v20.9h-1.32zM620.41 248.4h1.32v20.9h-1.32zM623.06 248.4h1.32v20.9h-1.32zM642.9 248.4h1.32v20.9h-1.32zM685.24 248.4h1.32v20.9h-1.32zM695.83 248.4h1.32v20.9h-1.32zM702.45 248.4h1.32v20.9h-1.32zM705.09 248.4h1.32v20.9h-1.32zM715.68 248.4h1.32v20.9h-1.32z"/>
<path d="M39.54 269.5h1.32v20.9h-1.32zM47.48 269.5h1.32v20.9h-1.32zM56.74 269.5h1.32v20.9h-1.32zM75.27 269.5h1.32v20.9h-1.32zM79.24 269.5h1.32v20.9h-1.32zM96.44 269.5h1.32v20.9h-1.32zM104.38 269.5h1.32v20.9h-1.32zM109.67 269.5h1.32v20.9h-1.32zM145.4 269.5h1.32v20.9h-1.32zM171.86 269.5h1.32v20.9h-1.32zM174.5 269.5h1.32v20.9h-1.32zM183.77 269.5h1.32v20.9h-1.32zM187.74 269.5h1.32v20.9h-1.32zM197 269.5h1.32v20.9h-1.32zM204.94 269.5h1.32v20.9h-1.32zM220.82 269.5h1.32v20.9h-1.32zM227.43 269.5h1.32v20.9h-1.32zM351.81 269.5h1.32v20.9h-1.32zM358.42 269.5h1.32v20.9h-1.32zM391.5 269.5h1.32v20.9h-1.32zM429.87 269.5h1.32v20.9h-1.32zM443.11 269.5h1.32v20.9h-1.32zM488.09 269.5h1.32v20.9h-1.32zM490.74 269.5h1.32v20.9h-1.32zM493.39 269.5h1.32v20.9h-1.32zM513.23 269.5h1.32v20.9h-1.32zM529.11 269.5h1.32v20.9h-1.32zM535.73 269.5h1.32v20.9h-1.32zM551.61 269.5h1.32v20.9h-1.32zM554.25 269.5h1.32v20.9h-1.32zM620.41 269.5h1.32v20.9h-1.32zM623.06 269.5h1.32v20.9h-1.32zM642.9 269.5h1.32v20.9h-1.32zM669.37 269.5h1.32v20.9h-1.32zM685.24 269.5h1.32v20.9h-1.32zM702.45 269.5h1.32v20.9h-1.32zM706.41 269.5h1.32v20.9h-1.32zM715.68 269.5h1.32v20.9h-1.32z"/>
<path d="M56.74 290.6h1.32v20.9h-1.32zM60.71 290.6h1.32v20.9h-1.32zM64.68 290.6h1.32v20.9h-1.32zM80.56 290.6h1.32v20.9h-1.32zM114.96 290.6h1.32v20.9h-1.32zM128.19 290.6h1.32v20.9h-1.32zM132.16 290.6h1.32v20.9h-1.32zM158.63 290.6h1.32v20.9h-1.32zM183.77 290.6h1.32v20.9h-1.32zM231.4 290.6h1.32v20.9h-1.32zM251.25 290.6h1.32v20.9h-1.32zM280.36 290.6h1.32v20.9h-1.32zM301.53 290.6h1.32v20.9h-1.32zM305.5 290.6h1.32v20.9h-1.32zM327.99 290.6h1.32v20.9h-1.32zM349.16 290.6h1.32v20.9h-1.32zM376.95 290.6h1.32v20.9h-1.32zM388.86 290.6h1.32v20.9h-1.32zM404.73 290.6h1.32v20.9h-1.32zM412.67 290.6h1.32v20.9h-1.32zM432.52 290.6h1.32v20.9h-1.32zM439.14 290.6h1.32v20.9h-1.32zM444.43 290.6h1.32v20.9h-1.32zM449.72 290.6h1.32v20.9h-1.32zM470.89 290.6h1.32v20.9h-1.32zM476.19 290.6h1.32v20.9h-1.32zM538.37 290.6h1.32v20.9h-1.32zM554.25 290.6h1.32v20.9h-1.32zM640.26 290.6h1.32v20.9h-1.32zM644.23 290.6h1.32v20.9h-1.32zM706.41 290.6h1.32v20.9h-1.32zM715.68 290.6h1.32v20.9h-1.32z"/>
<path d="M46.16 311.7h1.32v20.9h-1.32zM48.8 311.7h1.32v20.9h-1.32zM56.74 311.7h1.32v20.9h-1.32zM60.71 311.7h1.32v20.9h-1.32zM75.27 311.7h1.32v20.9h-1.32zM80.56 311.7h1.32v20.9h-1.32zM108.35 311.7h1.32v20.9h-1.32zM128.19 311.7h1.32v20.9h-1.32zM132.16 311.7h1.32v20.9h-1.32zM149.36 311.7h1.32v20.9h-1.32zM175.83 311.7h1.32v20.9h-1.32zM179.8 311.7h1.32v20.9h-1.32zM183.77 311.7h1.32v20.9h-1.32zM199.64 311.7h1.32v20.9h-1.32zM202.29 311.7h1.32v20.9h-1.32zM219.49 311.7h1.32v20.9h-1.32zM222.14 311.7h1.32v20.9h-1.32zM226.11 311.7h1.32v20.9h-1.32zM239.34 311.7h1.32v20.9h-1.32zM251.25 311.7h1.32v20.9h-1.32zM284.33 311.7h1.32v20.9h-1.32zM331.96 311.7h1.32v20.9h-1.32zM334.61 311.7h1.32v20.9h-1.32zM349.16 311.7h1.32v20.9h-1.32zM358.42 311.7h1.32v20.9h-1.32zM410.03 311.7h1.32v20.9h-1.32zM412.67 311.7h1.32v20.9h-1.32zM429.87 311.7h1.32v20.9h-1.32zM432.52 311.7h1.32v20.9h-1.32zM440.46 311.7h1.32v20.9h-1.32zM445.75 311.7h1.32v20.9h-1.32zM480.15 311.7h1.32v20.9h-1.32zM486.77 311.7h1.32v20.9h-1.32zM492.06 311.7h1.32v20.9h-1.32zM496.03 311.7h1.32v20.9h-1.32zM623.06 311.7h1.32v20.9h-1.32zM640.26 311.7h1.32v20.9h-1.32zM644.23 311.7h1.32v20.9h-1.32zM715.68 311.7h1.32v20.9h-1.32z"/>
<path d="M42.19 332.8h1.32v20.9h-1.32zM51.45 332.8h1.32v20.9h-1.32zM63.36 332.8h1.32v20.9h-1.32zM66.01 332.8h1.32v20.9h-1.32zM89.82 332.8h1.32v20.9h-1.32zM101.73 332.8h1.32v20.9h-1.32zM185.09 332.8h1.32v20.9h-1.32zM211.55 332.8h1.32v20.9h-1.32zM224.78 332.8h1.32v20.9h-1.32zM257.86 332.8h1.32v20.9h-1.32zM281.68 332.8h1.32v20.9h-1.32zM301.53 332.8h1.32v20.9h-1.32zM305.5 332.8h1.32v20.9h-1.32zM402.09 332.8h1.32v20.9h-1.32zM417.97 332.8h1.32v20.9h-1.32zM448.4 332.8h1.32v20.9h-1.32zM492.06 332.8h1.32v20.9h-1.32z"/>
<path d="M42.19 353.9h1.32v20.9h-1.32zM46.16 353.9h1.32v20.9h-1.32zM91.15 353.9h1.32v20.9h-1.32zM110.99 353.9h1.32v20.9h-1.32zM114.96 353.9h1.32v20.9h-1.32zM117.61 353.9h1.32v20.9h-1.32zM128.19 353.9h1.32v20.9h-1.32zM136.13 353.9h1.32v20.9h-1.32zM166.57 353.9h1.32v20.9h-1.32zM173.18 353.9h1.32v20.9h-1.32zM187.74 353.9h1.32v20.9h-1.32zM228.75 353.9h1.32v20.9h-1.32zM244.63 353.9h1.32v20.9h-1.32zM312.11 353.9h1.32v20.9h-1.32zM325.34 353.9h1.32v20.9h-1.32zM327.99 353.9h1.32v20.9h-1.32zM353.13 353.9h1.32v20.9h-1.32zM404.73 353.9h1.32v20.9h-1.32zM428.55 353.9h1.32v20.9h-1.32zM432.52 353.9h1.32v20.9h-1.32zM445.75 353.9h1.32v20.9h-1.32zM449.72 353.9h1.32v20.9h-1.32zM484.12 353.9h1.32v20.9h-1.32zM531.76 353.9h1.32v20.9h-1.32zM544.99 353.9h1.32v20.9h-1.32zM550.28 353.9h1.32v20.9h-1.32zM624.38 353.9h1.32v20.9h-1.32zM690.54 353.9h1.32v20.9h-1.32z"/>
<path d="M51.45 375h1.32v20.9h-1.32zM80.56 375h1.32v20.9h-1.32zM83.21 375h1.32v20.9h-1.32zM130.84 375h1.32v20.9h-1.32zM134.81 375h1.32v20.9h-1.32zM138.78 375h1.32v20.9h-1.32zM144.07 375h1.32v20.9h-1.32zM166.57 375h1.32v20.9h-1.32zM177.15 375h1.32v20.9h-1.32zM215.52 375h1.32v20.9h-1.32zM219.49 375h1.32v20.9h-1.32zM283 375h1.32v20.9h-1.32zM302.85 375h1.32v20.9h-1.32zM386.21 375h1.32v20.9h-1.32zM391.5 375h1.32v20.9h-1.32zM445.75 375h1.32v20.9h-1.32zM466.92 375h1.32v20.9h-1.32zM489.42 375h1.32v20.9h-1.32zM660.1 375h1.32v20.9h-1.32zM705.09 375h1.32v20.9h-1.32z"/>
<path d="M55.42 396.1h1.32v20.9h-1.32zM66.01 396.1h1.32v20.9h-1.32zM81.88 396.1h1.32v20.9h-1.32zM84.53 396.1h1.32v20.9h-1.32zM146.72 396.1h1.32v20.9h-1.32zM149.36 396.1h1.32v20.9h-1.32zM162.6 396.1h1.32v20.9h-1.32zM171.86 396.1h1.32v20.9h-1.32zM174.5 396.1h1.32v20.9h-1.32zM189.06 396.1h1.32v20.9h-1.32zM207.58 396.1h1.32v20.9h-1.32zM248.6 396.1h1.32v20.9h-1.32zM272.42 396.1h1.32v20.9h-1.32zM281.68 396.1h1.32v20.9h-1.32zM298.88 396.1h1.32v20.9h-1.32zM304.17 396.1h1.32v20.9h-1.32zM317.41 396.1h1.32v20.9h-1.32zM399.44 396.1h1.32v20.9h-1.32zM443.11 396.1h1.32v20.9h-1.32zM488.09 396.1h1.32v20.9h-1.32zM490.74 396.1h1.32v20.9h-1.32zM555.57 396.1h1.32v20.9h-1.32zM621.73 396.1h1.32v20.9h-1.32zM702.45 396.1h1.32v20.9h-1.32z"/>
<path d="M63.36 417.2h1.32v20.9h-1.32zM122.9 417.2h1.32v20.9h-1.32zM185.09 417.2h1.32v20.9h-1.32zM224.78 417.2h1.32v20.9h-1.32zM260.51 417.2h1.32v20.9h-1.32zM267.13 417.2h1.32v20.9h-1.32zM275.06 417.2h1.32v20.9h-1.32zM305.5 417.2h1.32v20.9h-1.32zM330.64 417.2h1.32v20.9h-1.32zM337.25 417.2h1.32v20.9h-1.32zM350.48 417.2h1.32v20.9h-1.32zM384.89 417.2h1.32v20.9h-1.32zM395.47 417.2h1.32v20.9h-1.32zM402.09 417.2h1.32v20.9h-1.32zM444.43 417.2h1.32v20.9h-1.32zM448.4 417.2h1.32v20.9h-1.32zM464.28 417.2h1.32v20.9h-1.32zM529.11 417.2h1.32v20.9h-1.32zM563.51 417.2h1.32v20.9h-1.32zM588.65 417.2h1.32v20.9h-1.32z"/>
<path d="M36.9 438.3h1.32v20.9h-1.32zM531.76 438.3h1.32v20.9h-1.32zM556.9 438.3h1.32v20.9h-1.32zM571.45 438.3h1.32v20.9h-1.32zM574.1 438.3h1.32v20.9h-1.32zM584.68 438.3h1.32v20.9h-1.32zM601.89 438.3h1.32v20.9h-1.32zM611.15 438.3h1.32v20.9h-1.32zM657.46 438.3h1.32v20.9h-1.32zM666.72 438.3h1.32v20.9h-1.32zM678.63 438.3h1.32v20.9h-1.32zM681.27 438.3h1.32v20.9h-1.32zM690.54 438.3h1.32v20.9h-1.32zM707.74 438.3h1.32v20.9h-1.32z"/></g>
<g fill="#0a0a0a"><path d="M34.25 121.8h9.26v20.9h-9.26zM44.84 121.8h5.29v20.9h-5.29zM51.45 121.8h2.65v20.9h-2.65zM55.42 121.8h51.6v20.9h-51.6zM109.67 121.8h6.62v20.9h-6.62zM121.58 121.8h7.94v20.9h-7.94zM130.84 121.8h6.62v20.9h-6.62zM152.01 121.8h13.23v20.9h-13.23zM166.57 121.8h9.26v20.9h-9.26zM177.15 121.8h29.11v20.9h-29.11zM207.58 121.8h27.79v20.9h-27.79zM236.69 121.8h75.42v20.9h-75.42zM313.44 121.8h31.76v20.9h-31.76zM346.52 121.8h7.94v20.9h-7.94zM355.78 121.8h68.8v20.9h-68.8zM425.91 121.8h11.91v20.9h-11.91zM439.14 121.8h37.05v20.9h-37.05zM477.51 121.8h34.4v20.9h-34.4zM513.23 121.8h11.91v20.9h-11.91zM530.43 121.8h5.29v20.9h-5.29zM537.05 121.8h5.29v20.9h-5.29zM543.67 121.8h7.94v20.9h-7.94zM552.93 121.8h37.05v20.9h-37.05zM596.59 121.8h11.91v20.9h-11.91zM609.82 121.8h9.26v20.9h-9.26zM620.41 121.8h11.91v20.9h-11.91zM633.64 121.8h30.43v20.9h-30.43zM666.72 121.8h17.2v20.9h-17.2zM685.24 121.8h31.76v20.9h-31.76z"/>
<path d="M137.46 142.9h2.65v20.9h-2.65zM141.43 142.9h2.65v20.9h-2.65z"/>
<path d="M107.02 164h2.65v20.9h-2.65zM118.93 164h2.65v20.9h-2.65zM525.14 164h2.65v20.9h-2.65zM664.07 164h2.65v20.9h-2.65z"/>
<path d="M560.87 185.1h2.65v20.9h-2.65zM564.84 185.1h2.65v20.9h-2.65zM604.53 185.1h2.65v20.9h-2.65zM615.12 185.1h3.97v20.9h-3.97zM681.27 185.1h2.65v20.9h-2.65z"/>
<path d=""/>
<path d="M40.87 227.3h2.65v20.9h-2.65zM159.95 227.3h2.65v20.9h-2.65zM170.54 227.3h3.97v20.9h-3.97zM182.44 227.3h2.65v20.9h-2.65zM190.38 227.3h3.97v20.9h-3.97zM198.32 227.3h5.29v20.9h-5.29zM208.91 227.3h2.65v20.9h-2.65zM222.14 227.3h2.65v20.9h-2.65zM232.72 227.3h2.65v20.9h-2.65zM367.69 227.3h2.65v20.9h-2.65zM412.67 227.3h2.65v20.9h-2.65zM417.97 227.3h3.97v20.9h-3.97zM440.46 227.3h2.65v20.9h-2.65zM447.08 227.3h5.29v20.9h-5.29zM458.98 227.3h2.65v20.9h-2.65zM473.54 227.3h2.65v20.9h-2.65zM484.12 227.3h2.65v20.9h-2.65zM490.74 227.3h3.97v20.9h-3.97zM513.23 227.3h3.97v20.9h-3.97zM521.17 227.3h3.97v20.9h-3.97zM621.73 227.3h2.65v20.9h-2.65zM629.67 227.3h2.65v20.9h-2.65zM634.96 227.3h3.97v20.9h-3.97zM642.9 227.3h3.97v20.9h-3.97zM649.52 227.3h2.65v20.9h-2.65z"/>
<path d="M38.22 248.4h2.65v20.9h-2.65zM47.48 248.4h2.65v20.9h-2.65zM51.45 248.4h2.65v20.9h-2.65zM62.04 248.4h2.65v20.9h-2.65zM66.01 248.4h11.91v20.9h-11.91zM83.21 248.4h2.65v20.9h-2.65zM132.16 248.4h2.65v20.9h-2.65zM154.66 248.4h3.97v20.9h-3.97zM159.95 248.4h5.29v20.9h-5.29zM170.54 248.4h3.97v20.9h-3.97zM177.15 248.4h5.29v20.9h-5.29zM189.06 248.4h3.97v20.9h-3.97zM198.32 248.4h6.62v20.9h-6.62zM210.23 248.4h14.55v20.9h-14.55zM228.75 248.4h2.65v20.9h-2.65zM238.02 248.4h13.23v20.9h-13.23zM252.57 248.4h26.46v20.9h-26.46zM281.68 248.4h5.29v20.9h-5.29zM289.62 248.4h11.91v20.9h-11.91zM302.85 248.4h2.65v20.9h-2.65zM310.79 248.4h3.97v20.9h-3.97zM316.08 248.4h2.65v20.9h-2.65zM320.05 248.4h2.65v20.9h-2.65zM329.31 248.4h2.65v20.9h-2.65zM333.28 248.4h2.65v20.9h-2.65zM338.58 248.4h3.97v20.9h-3.97zM346.52 248.4h2.65v20.9h-2.65zM350.48 248.4h2.65v20.9h-2.65zM355.78 248.4h3.97v20.9h-3.97zM361.07 248.4h7.94v20.9h-7.94zM370.33 248.4h6.62v20.9h-6.62zM379.59 248.4h7.94v20.9h-7.94zM388.86 248.4h3.97v20.9h-3.97zM394.15 248.4h2.65v20.9h-2.65zM399.44 248.4h5.29v20.9h-5.29zM412.67 248.4h11.91v20.9h-11.91zM429.87 248.4h2.65v20.9h-2.65zM435.17 248.4h2.65v20.9h-2.65zM440.46 248.4h2.65v20.9h-2.65zM445.75 248.4h2.65v20.9h-2.65zM452.37 248.4h3.97v20.9h-3.97zM458.98 248.4h6.62v20.9h-6.62zM468.25 248.4h3.97v20.9h-3.97zM473.54 248.4h2.65v20.9h-2.65zM477.51 248.4h2.65v20.9h-2.65zM485.45 248.4h9.26v20.9h-9.26zM497.36 248.4h2.65v20.9h-2.65zM515.88 248.4h5.29v20.9h-5.29zM522.5 248.4h2.65v20.9h-2.65zM538.37 248.4h3.97v20.9h-3.97zM636.29 248.4h2.65v20.9h-2.65zM646.87 248.4h3.97v20.9h-3.97zM656.13 248.4h6.62v20.9h-6.62zM669.37 248.4h2.65v20.9h-2.65z"/>
<path d="M43.51 269.5h2.65v20.9h-2.65zM51.45 269.5h2.65v20.9h-2.65zM62.04 269.5h11.91v20.9h-11.91zM83.21 269.5h2.65v20.9h-2.65zM118.93 269.5h2.65v20.9h-2.65zM132.16 269.5h2.65v20.9h-2.65zM157.3 269.5h3.97v20.9h-3.97zM166.57 269.5h2.65v20.9h-2.65zM179.8 269.5h2.65v20.9h-2.65zM190.38 269.5h3.97v20.9h-3.97zM199.64 269.5h3.97v20.9h-3.97zM207.58 269.5h2.65v20.9h-2.65zM211.55 269.5h7.94v20.9h-7.94zM223.46 269.5h2.65v20.9h-2.65zM232.72 269.5h2.65v20.9h-2.65zM236.69 269.5h2.65v20.9h-2.65zM240.66 269.5h10.59v20.9h-10.59zM252.57 269.5h30.43v20.9h-30.43zM285.65 269.5h17.2v20.9h-17.2zM305.5 269.5h3.97v20.9h-3.97zM310.79 269.5h3.97v20.9h-3.97zM320.05 269.5h2.65v20.9h-2.65zM327.99 269.5h3.97v20.9h-3.97zM335.93 269.5h6.62v20.9h-6.62zM347.84 269.5h2.65v20.9h-2.65zM361.07 269.5h7.94v20.9h-7.94zM371.66 269.5h6.62v20.9h-6.62zM379.59 269.5h10.59v20.9h-10.59zM394.15 269.5h2.65v20.9h-2.65zM399.44 269.5h10.59v20.9h-10.59zM412.67 269.5h11.91v20.9h-11.91zM435.17 269.5h6.62v20.9h-6.62zM447.08 269.5h3.97v20.9h-3.97zM452.37 269.5h3.97v20.9h-3.97zM458.98 269.5h6.62v20.9h-6.62zM469.57 269.5h11.91v20.9h-11.91zM482.8 269.5h2.65v20.9h-2.65zM497.36 269.5h2.65v20.9h-2.65zM503.97 269.5h2.65v20.9h-2.65zM515.88 269.5h3.97v20.9h-3.97zM539.7 269.5h2.65v20.9h-2.65zM587.33 269.5h2.65v20.9h-2.65zM593.95 269.5h2.65v20.9h-2.65zM636.29 269.5h2.65v20.9h-2.65zM646.87 269.5h2.65v20.9h-2.65zM656.13 269.5h6.62v20.9h-6.62zM710.38 269.5h2.65v20.9h-2.65z"/>
<path d="M34.25 290.6h3.97v20.9h-3.97zM42.19 290.6h3.97v20.9h-3.97zM85.85 290.6h9.26v20.9h-9.26zM97.76 290.6h6.62v20.9h-6.62zM108.35 290.6h5.29v20.9h-5.29zM120.26 290.6h3.97v20.9h-3.97zM140.1 290.6h2.65v20.9h-2.65zM145.4 290.6h2.65v20.9h-2.65zM166.57 290.6h2.65v20.9h-2.65zM174.5 290.6h2.65v20.9h-2.65zM186.41 290.6h2.65v20.9h-2.65zM193.03 290.6h3.97v20.9h-3.97zM204.94 290.6h3.97v20.9h-3.97zM224.78 290.6h2.65v20.9h-2.65zM322.7 290.6h2.65v20.9h-2.65zM330.64 290.6h2.65v20.9h-2.65zM334.61 290.6h2.65v20.9h-2.65zM342.55 290.6h3.97v20.9h-3.97zM353.13 290.6h2.65v20.9h-2.65zM408.7 290.6h2.65v20.9h-2.65zM425.91 290.6h2.65v20.9h-2.65zM465.6 290.6h2.65v20.9h-2.65zM480.15 290.6h3.97v20.9h-3.97zM505.29 290.6h6.62v20.9h-6.62zM525.14 290.6h3.97v20.9h-3.97zM531.76 290.6h3.97v20.9h-3.97zM544.99 290.6h5.29v20.9h-5.29zM556.9 290.6h13.23v20.9h-13.23zM574.1 290.6h14.55v20.9h-14.55zM596.59 290.6h10.59v20.9h-10.59zM608.5 290.6h11.91v20.9h-11.91zM621.73 290.6h2.65v20.9h-2.65zM628.35 290.6h2.65v20.9h-2.65zM633.64 290.6h2.65v20.9h-2.65zM650.84 290.6h3.97v20.9h-3.97zM666.72 290.6h2.65v20.9h-2.65zM674.66 290.6h3.97v20.9h-3.97zM681.27 290.6h3.97v20.9h-3.97zM686.57 290.6h9.26v20.9h-9.26zM697.15 290.6h3.97v20.9h-3.97zM710.38 290.6h3.97v20.9h-3.97z"/>
<path d="M34.25 311.7h3.97v20.9h-3.97zM39.54 311.7h2.65v20.9h-2.65zM85.85 311.7h9.26v20.9h-9.26zM97.76 311.7h6.62v20.9h-6.62zM110.99 311.7h6.62v20.9h-6.62zM122.9 311.7h2.65v20.9h-2.65zM140.1 311.7h2.65v20.9h-2.65zM145.4 311.7h2.65v20.9h-2.65zM153.33 311.7h2.65v20.9h-2.65zM161.27 311.7h2.65v20.9h-2.65zM169.21 311.7h3.97v20.9h-3.97zM187.74 311.7h2.65v20.9h-2.65zM194.35 311.7h2.65v20.9h-2.65zM204.94 311.7h2.65v20.9h-2.65zM208.91 311.7h2.65v20.9h-2.65zM228.75 311.7h2.65v20.9h-2.65zM316.08 311.7h2.65v20.9h-2.65zM322.7 311.7h2.65v20.9h-2.65zM342.55 311.7h5.29v20.9h-5.29zM353.13 311.7h2.65v20.9h-2.65zM425.91 311.7h2.65v20.9h-2.65zM465.6 311.7h2.65v20.9h-2.65zM500 311.7h2.65v20.9h-2.65zM506.62 311.7h5.29v20.9h-5.29zM525.14 311.7h3.97v20.9h-3.97zM531.76 311.7h2.65v20.9h-2.65zM535.73 311.7h2.65v20.9h-2.65zM544.99 311.7h5.29v20.9h-5.29zM556.9 311.7h13.23v20.9h-13.23zM574.1 311.7h14.55v20.9h-14.55zM589.98 311.7h3.97v20.9h-3.97zM597.92 311.7h9.26v20.9h-9.26zM608.5 311.7h11.91v20.9h-11.91zM628.35 311.7h2.65v20.9h-2.65zM633.64 311.7h2.65v20.9h-2.65zM649.52 311.7h5.29v20.9h-5.29zM661.43 311.7h3.97v20.9h-3.97zM666.72 311.7h2.65v20.9h-2.65zM674.66 311.7h3.97v20.9h-3.97zM681.27 311.7h3.97v20.9h-3.97zM686.57 311.7h14.55v20.9h-14.55zM702.45 311.7h3.97v20.9h-3.97zM709.06 311.7h2.65v20.9h-2.65z"/>
<path d="M155.98 332.8h6.62v20.9h-6.62zM275.06 332.8h2.65v20.9h-2.65zM474.86 332.8h2.65v20.9h-2.65z"/>
<path d="M34.25 353.9h3.97v20.9h-3.97zM96.44 353.9h5.29v20.9h-5.29zM103.05 353.9h5.29v20.9h-5.29zM195.68 353.9h5.29v20.9h-5.29zM208.91 353.9h2.65v20.9h-2.65zM224.78 353.9h2.65v20.9h-2.65zM234.05 353.9h2.65v20.9h-2.65zM346.52 353.9h3.97v20.9h-3.97zM423.26 353.9h2.65v20.9h-2.65zM436.49 353.9h6.62v20.9h-6.62zM453.69 353.9h2.65v20.9h-2.65zM480.15 353.9h2.65v20.9h-2.65zM486.77 353.9h2.65v20.9h-2.65zM498.68 353.9h2.65v20.9h-2.65zM506.62 353.9h5.29v20.9h-5.29zM513.23 353.9h2.65v20.9h-2.65zM521.17 353.9h2.65v20.9h-2.65zM534.4 353.9h5.29v20.9h-5.29zM558.22 353.9h5.29v20.9h-5.29zM564.84 353.9h7.94v20.9h-7.94zM575.42 353.9h2.65v20.9h-2.65zM580.71 353.9h3.97v20.9h-3.97zM586.01 353.9h2.65v20.9h-2.65zM589.98 353.9h7.94v20.9h-7.94zM601.89 353.9h5.29v20.9h-5.29zM613.79 353.9h9.26v20.9h-9.26zM629.67 353.9h6.62v20.9h-6.62zM642.9 353.9h2.65v20.9h-2.65zM648.2 353.9h2.65v20.9h-2.65zM668.04 353.9h2.65v20.9h-2.65zM672.01 353.9h2.65v20.9h-2.65zM677.31 353.9h5.29v20.9h-5.29zM686.57 353.9h2.65v20.9h-2.65zM694.51 353.9h2.65v20.9h-2.65zM698.48 353.9h3.97v20.9h-3.97zM703.77 353.9h2.65v20.9h-2.65zM710.38 353.9h5.29v20.9h-5.29z"/>
<path d="M34.25 375h2.65v20.9h-2.65zM38.22 375h5.29v20.9h-5.29zM46.16 375h2.65v20.9h-2.65zM58.07 375h3.97v20.9h-3.97zM67.33 375h3.97v20.9h-3.97zM72.62 375h6.62v20.9h-6.62zM88.5 375h3.97v20.9h-3.97zM97.76 375h3.97v20.9h-3.97zM103.05 375h7.94v20.9h-7.94zM113.64 375h3.97v20.9h-3.97zM125.55 375h3.97v20.9h-3.97zM154.66 375h2.65v20.9h-2.65zM158.63 375h3.97v20.9h-3.97zM169.21 375h2.65v20.9h-2.65zM181.12 375h2.65v20.9h-2.65zM186.41 375h2.65v20.9h-2.65zM191.71 375h10.59v20.9h-10.59zM208.91 375h3.97v20.9h-3.97zM226.11 375h2.65v20.9h-2.65zM232.72 375h3.97v20.9h-3.97zM239.34 375h2.65v20.9h-2.65zM244.63 375h2.65v20.9h-2.65zM249.92 375h2.65v20.9h-2.65zM259.19 375h5.29v20.9h-5.29zM268.45 375h3.97v20.9h-3.97zM276.39 375h2.65v20.9h-2.65zM289.62 375h5.29v20.9h-5.29zM296.24 375h2.65v20.9h-2.65zM310.79 375h5.29v20.9h-5.29zM318.73 375h3.97v20.9h-3.97zM325.34 375h5.29v20.9h-5.29zM331.96 375h5.29v20.9h-5.29zM339.9 375h3.97v20.9h-3.97zM346.52 375h3.97v20.9h-3.97zM351.81 375h2.65v20.9h-2.65zM359.75 375h2.65v20.9h-2.65zM366.36 375h3.97v20.9h-3.97zM378.27 375h5.29v20.9h-5.29zM404.73 375h3.97v20.9h-3.97zM410.03 375h11.91v20.9h-11.91zM423.26 375h2.65v20.9h-2.65zM427.23 375h2.65v20.9h-2.65zM432.52 375h10.59v20.9h-10.59zM449.72 375h14.55v20.9h-14.55zM476.19 375h11.91v20.9h-11.91zM493.39 375h3.97v20.9h-3.97zM498.68 375h2.65v20.9h-2.65zM503.97 375h2.65v20.9h-2.65zM507.94 375h15.88v20.9h-15.88zM534.4 375h11.91v20.9h-11.91zM548.96 375h5.29v20.9h-5.29zM558.22 375h5.29v20.9h-5.29zM566.16 375h3.97v20.9h-3.97zM575.42 375h11.91v20.9h-11.91zM589.98 375h21.17v20.9h-21.17zM613.79 375h5.29v20.9h-5.29zM624.38 375h14.55v20.9h-14.55zM641.58 375h3.97v20.9h-3.97zM648.2 375h5.29v20.9h-5.29zM664.07 375h2.65v20.9h-2.65zM668.04 375h2.65v20.9h-2.65zM673.34 375h2.65v20.9h-2.65zM685.24 375h2.65v20.9h-2.65zM693.18 375h9.26v20.9h-9.26zM710.38 375h6.62v20.9h-6.62z"/>
<path d="M178.47 396.1h2.65v20.9h-2.65zM252.57 396.1h3.97v20.9h-3.97zM284.33 396.1h2.65v20.9h-2.65zM470.89 396.1h2.65v20.9h-2.65z"/>
<path d="M286.97 417.2h2.65v20.9h-2.65zM300.2 417.2h2.65v20.9h-2.65z"/>
<path d=""/></g>
</svg>
<div class="pl" style="left:1px;top:0.3px">A</div>
<div class="pl" style="left:0px;top:475.5px">B</div>
<div class="lab" style="top:127.35px">Primary Tumor</div><div class="lab" style="top:148.45px">Non−Malignant</div><div class="lab" style="top:169.55px">Non−Primary</div><div class="lab" style="top:190.65px">BRCA1</div><div class="lab" style="top:211.75px">BRCA2</div><div class="lab" style="top:232.85px">BRCAx</div><div class="lab" style="top:253.95px">ER−pos</div><div class="lab" style="top:275.05px">PgR−pos</div><div class="lab" style="top:296.15px">ER−neg</div><div class="lab" style="top:317.25px">PgR−neg</div><div class="lab" style="top:338.35px">Grade 1</div><div class="lab" style="top:359.45px">Grade 3</div><div class="lab" style="top:380.55px">Ductal</div><div class="lab" style="top:401.65px">Lobular</div><div class="lab" style="top:422.75px">Tubular</div><div class="lab" style="top:443.85px">Medullary</div>
<div class="hl" style="left:34.9px;top:501.4px;width:314.4px;height:2px"></div>
<div class="hl" style="left:150.5px;top:480px;width:1.6px;height:69px"></div>
<svg width="778" height="552" viewBox="0 0 778 552" class="tx">
<g font-family="'DejaVu Sans Condensed','DejaVu Sans','Liberation Sans',sans-serif" font-size="15" fill="#151515">
<text transform="translate(177.7,498.3) scale(1,1.13)">BRCA1</text>
<text transform="translate(260.9,498.3) scale(1,1.13)">Non-BRCA1</text>
<text transform="translate(37.0,522.2) scale(1,1.1)" font-size="15.5">Basal-like</text>
<text transform="translate(37.0,546.6) scale(1,1.1)" font-size="15.5">Non-Basal-like</text>
<text transform="translate(192.8,522.2) scale(1,1.13)">27</text>
<text transform="translate(192.8,546.6) scale(1,1.13)">12</text>
<text transform="translate(287.5,522.2) scale(1,1.13)">128</text>
<text transform="translate(287.5,546.6) scale(1,1.13)">349</text>
</g>
<text transform="translate(397.8,530.7) scale(1,1.15)" font-family="'Liberation Serif',serif" font-style="italic" font-size="21" fill="#111">p = 2*10<tspan dy="-7.2" font-size="14.5">-7</tspan></text>
</svg>
</body></html>
